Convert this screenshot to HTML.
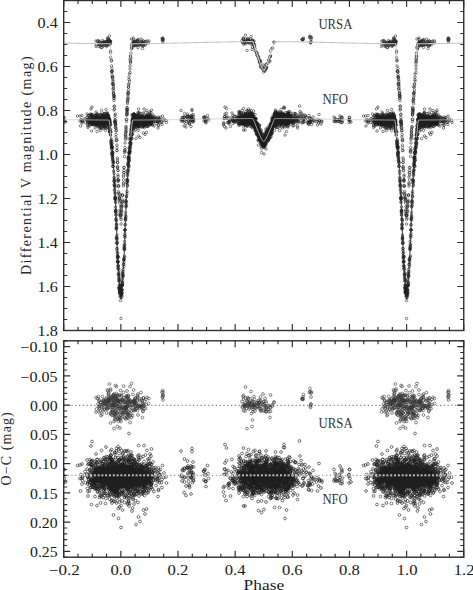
<!DOCTYPE html><html><head><meta charset="utf-8"><style>html,body{margin:0;padding:0;background:#fff;}svg{display:block;}</style></head><body><svg width="473" height="590" viewBox="0 0 473 590"><defs><marker id="o" markerUnits="userSpaceOnUse" markerWidth="8" markerHeight="8" refX="4" refY="4" overflow="visible"><circle cx="4" cy="4" r="2.5" fill="none" stroke="#1e1e1e" stroke-width="1.1"/></marker><marker id="u" markerUnits="userSpaceOnUse" markerWidth="8" markerHeight="8" refX="4" refY="4" overflow="visible"><circle cx="4" cy="4" r="2.5" fill="none" stroke="#2a2a2a" stroke-width="1.15"/></marker><marker id="p" markerUnits="userSpaceOnUse" markerWidth="8" markerHeight="8" refX="4" refY="4" overflow="visible"><circle cx="4" cy="4" r="2.8" fill="none" stroke="#1e1e1e" stroke-width="1.2"/></marker><marker id="q" markerUnits="userSpaceOnUse" markerWidth="8" markerHeight="8" refX="4" refY="4" overflow="visible"><circle cx="4" cy="4" r="2.8" fill="none" stroke="#383838" stroke-width="1.2"/></marker><clipPath id="cu"><rect x="63.7" y="0.5" width="400.05" height="330.0"/></clipPath><clipPath id="cl"><rect x="63.7" y="340.8" width="400.05" height="216.40"/></clipPath></defs><rect width="473" height="590" fill="#fff"/><g clip-path="url(#cu)"><path d="M110.0 127.14L110.3 130.55L110.6 133.95L110.8 137.36L111.1 140.76L111.4 143.57L111.7 145.98L112.0 148.39L112.3 150.87L112.6 154.00L112.8 157.13L113.1 160.26L113.4 164.96L113.7 169.74L114.0 174.52L114.3 179.31L114.6 184.09L114.8 188.87L115.1 194.21L115.4 199.84L115.7 207.17L116.0 214.68L116.3 222.20L116.6 229.72L116.8 237.26L117.1 244.79L117.4 251.87L117.7 257.61L118.0 262.51L118.3 266.57L118.6 270.63L118.8 274.68L119.1 278.75L119.4 282.85L119.7 286.95L120.0 290.86L120.3 293.71L120.6 296.55L120.9 299.40L121.1 296.55L121.4 293.71L121.7 290.86L122.0 286.95L122.3 282.85L122.6 278.75L122.9 274.68L123.1 270.63L123.4 266.57L123.7 262.51L124.0 257.61L124.3 251.87L124.6 244.79L124.9 237.26L125.1 229.72L125.4 222.20L125.7 214.68L126.0 207.17L126.3 199.84L126.6 194.21L126.9 188.87L127.1 184.09L127.4 179.31L127.7 174.52L128.0 169.74L128.3 164.96L128.6 160.26L128.9 157.13L129.1 154.00L129.4 150.87L129.7 148.39L130.0 145.98L130.3 143.57L130.6 140.76L130.9 137.36L131.1 133.95L131.4 130.55L131.7 127.14M395.7 127.14L396.0 130.55L396.3 133.95L396.6 137.36L396.9 140.76L397.2 143.57L397.5 145.98L397.7 148.39L398.0 150.87L398.3 154.00L398.6 157.13L398.9 160.26L399.2 164.96L399.5 169.74L399.7 174.52L400.0 179.31L400.3 184.09L400.6 188.87L400.9 194.21L401.2 199.84L401.5 207.17L401.7 214.68L402.0 222.20L402.3 229.72L402.6 237.26L402.9 244.79L403.2 251.87L403.5 257.61L403.7 262.51L404.0 266.57L404.3 270.63L404.6 274.68L404.9 278.75L405.2 282.85L405.5 286.95L405.7 290.86L406.0 293.71L406.3 296.55L406.6 299.40L406.9 296.55L407.2 293.71L407.5 290.86L407.7 286.95L408.0 282.85L408.3 278.75L408.6 274.68L408.9 270.63L409.2 266.57L409.5 262.51L409.7 257.61L410.0 251.87L410.3 244.79L410.6 237.26L410.9 229.72L411.2 222.20L411.5 214.68L411.7 207.17L412.0 199.84L412.3 194.21L412.6 188.87L412.9 184.09L413.2 179.31L413.5 174.52L413.7 169.74L414.0 164.96L414.3 160.26L414.6 157.13L414.9 154.00L415.2 150.87L415.5 148.39L415.7 145.98L416.0 143.57L416.3 140.76L416.6 137.36L416.9 133.95L417.2 130.55L417.5 127.14" fill="none" stroke="#666" stroke-width="1.3"/><g transform="scale(0.5)"><path d="M192 93l0-11 1 8 2-8 1 4 1-5 0 7 1-5 0 1 0 9 1-5 0 2 0-1 2 3 0-6 1-1 0 1 0 9 1-8 0 2 1 6 0-6 1-8 1 11 0-5 1-3 0 0 0 0 1 7 0-6 0 2 1-3 0 6 0-3 0-1 1-1 2 2 0-4 0 3 0 4 1 3 0-5 0-2 0-4 0 5 1-2 0 6 0-7 1 6 0-14 0 8 0-1 1 6 0-12 1 4 0-2 0 5 0-1 0 1 0 0 0 5 0-11 1 8 0-6 0 5 0-1 0-1 1 1 0 3 0-15 1 16 0-6 0 7 0-3 0-3 0-1 0 1 1 0 0 0 0 19 0 3 0 10 2 5 0 2 0 10 0 11 1-1 0 0 0-5 0 7 0 5 1 6 0-2 0 1 0 13 0-11 1 11 0 2 0-9 0 9 0 9 0-15 1 13 0-4 0 9 0 5 0 2 0-2 1 11 0-6 0 1 0 4 0-5 0 2 0 20 0-12 0 19 1-8 0 6 1 12 0 13 0 1 0-1 0-8 0 9 0 2 0-2 0-4 1-12 0 23 0-1 0-4 0-5 0 14 0-7 0 1 0 6 1 2 0 5 0 7 0 5 1-13 0 20 0 0 0-2 1 11 0 5 0 6 0 0 1 15 0 9 0 0 0 11 0-3 0-13 0 15 1 6 0 0 0 19 0-7 0 10 0-13 0 9 1 1 0 11 0-10 0 12 0 13 0-14 0 11 1 7 0 10 1-12 0 8 0-2 0 2 0 2 0 8 1 14 0-18 0 26 0-5 0 8 1-18 0 19 0-2 0 0 1 18 0-9 0-3 0-10 1-7 0-4 0 8 0 7 0-18 0 10 1-9 0-8 0 5 1-10 0 3 0 1 0-14 0 0 0 1 2-19 0-18 0 14 0-2 0-16 0 10 1-19 0 4 0 0 0-10 0 0 1-30 0 8 0-12 1 2 0-8 0 5 0-14 1-10 0 3 0-8 0-2 0 0 1-11 0 16 0-10 0 0 0-3 0-6 0-2 1-14 0 4 0-13 0 9 1-13 0-7 0 9 0-13 0 15 0-7 0-7 0 5 0 4 0-5 1-1 0-17 0 2 0-5 0 8 1-8 0-11 0 8 0-9 0-2 0 7 1-18 0 11 0-11 0-5 0 11 1-12 0-9 0-5 1 8 0-14 1-10 0 7 0-13 0-14 1 5 0 3 0-14 0 0 0 10 1-6 0-10 1-28 0 16 0 2 0-6 0 8 2-3 0-8 1-2 0-6 1 6 0-9 0 9 0 6 1-6 0 0 0-1 0 2 0-1 1 3 0 3 0 0 0-5 0-2 1-1 0 5 0 3 0-8 1 5 0-6 0 5 0-2 1 3 0-2 0 4 1-3 1 3 1-10 0 1 0 10 0-7 0-1 1-1 0 13 0-6 0-10 1 8 1 2 0-1 1 0 1 2 0-6 1 4 0 1 1-11 1 6 0-1 0 6 1 0 0 0 1 8 0-10 0-1 0-2 1 8 0 0 1-4 0-6 0 0 0 5 1 3 0-2 1-4 2 6 1-7 0 4 2-5 3 4 1-4 26-5 1 3 0 1 0-5 1 7 0-6 0 2 0 0 158 2 1 3 0 1 1-8 1-1 0 12 0-9 1 4 0 1 1-1 1 5 0-6 0 2 0 1 1-7 0 5 0-13 2 16 0-3 1 18 0-21 1 4 0-3 0-4 1 7 0-5 0 5 1-6 1 8 0-3 0-1 0-1 0 1 1 3 0-3 1 2 1-6 1-5 0 11 1 1 0-4 0 8 1-7 0 17 1-19 0 14 0-12 1 6 0-1 0-1 0 0 0-4 0 3 1 3 1-6 0 7 1 4 0-4 0 5 1 3 0 4 2 2 1 2 1 1 0 4 0-3 0 4 2 1 1 3 0 3 0-4 2 11 0-4 0 2 0-1 1 3 0-2 1 1 0-3 0 9 0 3 1 0 0 2 3 2 1 2 0-9 0 8 1-1 0 7 1-7 1 4 1-8 0 9 0-5 1-1 1 1 0-2 0 3 0-9 1 5 0 1 0-7 3-2 1-6 1 2 1-7 1 7 0-9 1-11 0 10 0 0 3-15 1-1 3-11 0-1 56-5 1 0 0 0 0 0 1-1 0 2 1-4 12-1 1-1 0-2 1 14 0-1 1-1 0-6 0 5 0-8 1 0 140 18 1-11 0 8 2-8 1 4 1-5 0 7 1-5 1 1 0 9 0-5 0 2 1-1 1 3 1-6 0-1 1 1 0 9 0-8 1 2 0 6 1-6 1-8 0 11 1-5 0-3 1 0 0 0 0 7 0-6 1 2 0-3 0 6 1-3 0-1 1-1 1 2 0-4 0 3 1 4 0 3 0-5 0-2 0-4 1 5 0-2 0 6 1-7 0 6 1-14 0 8 0-1 1 6 0-12 0 4 0-2 0 5 0-1 0 1 1 0 0 5 0-11 0 8 0-6 0 5 1-1 0-1 0 1 1 3 0-15 0 16 0-6 0 7 0-3 0-3 0-1 1 1 0 0 0 0 1 19 0 3 0 10 1 5 0 2 0 10 1 11 0-1 0 0 1-5 0 7 0 5 0 6 0-2 1 1 0 13 0-11 0 11 0 2 0-9 0 9 0 9 1-15 0 13 0-4 1 9 0 5 0 2 0-2 0 11 0-6 0 1 1 4 0-5 0 2 0 20 0-12 0 19 1-8 0 6 0 12 0 13 1 1 0-1 0-8 0 9 0 2 0-2 0-4 0-12 0 23 0-1 0-4 0-5 1 14 0-7 0 1 0 6 0 2 0 5 1 7 0 5 0-13 1 20 0 0 0-2 0 11 0 5 0 6 1 0 0 15 0 9 0 0 0 11 0-3 1-13 0 15 0 6 0 0 0 19 1-7 0 10 0-13 0 9 0 1 0 11 0-10 0 12 0 13 1-14 0 11 0 7 1 10 0-12 0 8 0-2 0 2 1 2 0 8 0 14 0-18 0 26 0-5 1 8 0-18 1 19 0-2 0 0 0 18 0-9 1-3 0-10 0-7 0-4 0 8 0 7 1-18 0 10 0-9 0-8 1 5 0-10 0 3 0 1 1-14 0 0 0 1 1-19 0-18 0 14 0-2 1-16 0 10 0-19 0 4 0 0 0-10 1 0 1-30 0 8 0-12 0 2 0-8 1 5 0-14 0-10 0 3 1-8 0-2 0 0 0-11 0 16 0-10 0 0 0-3 1-6 0-2 1-14 0 4 0-13 0 9 0-13 0-7 0 9 0-13 0 15 0-7 1-7 0 5 0 4 0-5 0-1 0-17 1 2 0-5 0 8 0-8 0-11 0 8 1-9 0-2 0 7 0-18 0 11 0-11 1-5 0 11 0-12 1-9 0-5 0 8 0-14 2-10 0 7 0-13 0-14 0 5 0 3 1-14 0 0 0 10 0-6 0-10 1-28 0 16 0 2 1-6 0 8 1-3 0-8 2-2 0-6 0 6 0-9 0 9 1 6 0-6 0 0 0-1 1 2 0-1 0 3 0 3 0 0 0-5 1-2 0-1 0 5 1 3 0-8 0 5 1-6 0 5 0-2 1 3 0-2 0 4 0-3 1 3 1-10 0 1 0 10 1-7 0-1 0-1 0 13 0-6 0-10 2 8 0 2 0-1 1 0 1 2 1-6 0 4 1 1 0-11 1 6 0-1 1 6 0 0 1 0 0 8 1-10 0-1 0-2 0 8 1 0 0-4 0-6 1 0 0 5 0 3 1-2 0-4 2 6 2-7 0 4 2-5 3 4 0-4 27-5 0 3 1 1 0-5 0 7 0-6 0 2 1 0" fill="none" marker-start="url(#u)" marker-mid="url(#u)" marker-end="url(#u)"/><path d="M126 239l0 1 0-1 1 6 1-10 0 0 1 7 2 2 24-12 5 0 0 10 1 10 1-13 1 3 1 4 0-15 1 10 0 0 0 3 4-4 1-3 1 8 3-6 0-11 0 7 1 11 0-5 0 9 1 5 0-16 0 6 0 7 0-20 0 9 1 0 0 2 0-1 1-11 0 14 0-14 1 10 0 11 0-5 0-11 1 9 0-17 0 8 0-1 0 4 1-1 0 7 0 4 0-4 1-27 0 14 0 0 0 17 0-6 0-13 1 14 0 0 0-1 0 19 0-30 0 7 0 5 0-15 0 18 0-18 0 16 0-8 1-5 0 17 0-17 0 12 0-30 0 29 0-9 1 13 0-5 0 5 0-2 0-16 1 15 0-6 0-1 0 12 0-4 0 4 1-14 0 7 0 5 0-7 0-6 0 4 0 6 0 3 0-8 1 1 0 4 0-4 0 5 0 0 0 0 0-12 0 7 0-4 1 14 0-9 0-5 0 8 0 0 0-6 0 8 0-3 1-13 0 8 0 1 0 17 0-12 0-4 0-1 0 5 0 3 0-4 0-8 0 10 0 4 0-4 0-14 1 12 0-6 0 3 0 1 0-8 0 6 0-7 0 4 0 8 0 4 1 2 0-2 0-6 0-6 0 7 0 7 0-26 0 13 1 7 0 2 0 0 0-11 0 13 0-10 0 1 0-2 0-6 0 13 0 0 0 5 0-9 1-4 0-8 0 7 0-4 0 32 0-13 0-16 0-4 0 11 1-13 0 15 0 10 0-17 0 8 0-6 0-5 0 11 1-8 0 5 0-7 0 3 0 4 0 9 0-8 0-4 0 2 0 9 0-13 0 16 1-17 0 4 0 3 0-3 0-5 1 10 0 1 0 0 0 2 0-1 0 2 0-5 0-3 0 0 0 1 1-7 0 10 0-3 0-5 0 16 0-11 0-6 0 8 0-2 0-6 0 15 0-12 0 19 1-15 0 8 0-8 0-4 0 17 0-17 0 4 0-12 0 1 0 9 0 4 0 0 0-6 0 1 0-3 0 0 0 13 1-7 0-3 0 1 0 2 0 3 0-10 0-1 0 5 0 1 0-4 0 10 0 5 0-7 0-16 0 12 0 21 0-24 0-2 0 4 0 16 1-21 0 1 0 7 0-13 0 15 0 1 0-7 0 10 0-11 1 17 0-15 0-2 0 8 0 11 0-35 0 24 0-9 0 12 0-11 0-2 1 6 0 3 0-3 0-6 0 1 0 3 0-1 0 9 0 1 0-10 0-7 0 12 1 4 0-8 0 4 0 6 0-10 0 7 0-9 0 1 0-5 1 0 0 3 0 10 0-5 0 1 0-12 0 18 0-14 0-3 0 9 0 14 0 3 1-27 0 10 0-3 0 10 0-11 0-3 0 18 0-15 0 2 0 5 0-4 0 1 0-2 0-1 1 9 0 6 0-20 0 12 0-8 0 13 0-7 0-5 0-10 0 5 0 15 0-10 0-10 0 8 0 2 0 13 0-16 0 8 0 2 0-3 1-13 0 17 0 1 0-3 0 7 0 5 0-23 0 8 0-4 0 0 0 3 0 1 0 5 0-8 0 16 0-11 0 1 0-7 0 3 0 11 1-8 0 5 0-4 0 1 0 7 0-7 0-2 0-1 0 5 0-5 0-7 0 4 0 9 1-13 0 9 0 11 0-9 0-1 0-9 0-6 0 6 0 13 0 13 0-19 0 1 0 2 1 2 0-3 0 0 0-25 0 38 0-12 0-2 0 11 0-16 0 1 1 5 0-1 0-2 0-15 0 2 0 14 0-11 0 18 1-4 0-9 0 8 0-5 0 7 0-7 0-6 0 9 0 2 1-16 0 15 0-11 0 16 0-13 0 4 0-2 0 1 0 1 0 7 0-1 0 10 0-24 0-5 0 3 1 18 0-10 0 10 0-4 0-9 0 7 0-7 0 11 0-11 0 11 0-6 0-4 0 5 0-3 0 10 0-16 0 3 0 7 1 1 0-3 0-3 0 2 0 13 0-8 0-12 0 24 0-23 0 18 0-5 0-5 0-5 1 11 0 4 0-5 0-5 0-4 0 6 0-1 0 9 0-11 0-2 0-1 0 9 0-5 0 8 0-9 0 4 1 9 0-12 0 8 0 9 0-13 0-2 0 2 0 9 0 11 0-10 0-11 0 8 0 6 0 7 0-4 1-15 0 17 0-16 0 14 0-20 0 10 0-7 0 21 1-15 0 10 0-10 0 21 0-7 0 7 1 12 0 6 0-24 0 18 0 3 1 6 0 3 0 14 0-14 0-7 0-8 0 19 0-8 1-7 0 12 0-1 0-7 0 6 0 6 0-5 0 13 0-3 1 5 0-13 0 9 0 0 0 5 0 2 0 1 0 4 0-2 0 6 1-16 0 17 0-3 0 13 0 1 0-6 0 6 1-9 0 1 0 17 1 5 0 8 0 8 0 6 0-9 1 3 0 9 0-10 0-5 0 14 0 10 0-2 1-5 0-5 0 27 0-10 0 1 0 11 0 0 0-5 1 3 0 7 0-7 0-1 0 10 0-7 0 23 0-7 0 8 0 1 1 2 0 5 0-10 0 5 0 5 0 7 0 2 0 18 0-17 1 11 0-2 0 7 0-8 0 7 0 3 0-16 0 34 0 1 0-3 1 2 0-6 0 16 0-6 0 7 0 10 0-13 0 2 0 15 0-4 1 18 0-8 0 14 0-16 0 19 0-12 0 12 0-12 0 4 1 15 0 4 0-11 0 0 0-1 0-10 0 19 0 6 1-6 0-18 0 23 0 12 0 27 0-26 0-4 1 6 0-11 0 15 0 6 0-3 0-2 0 5 0-14 0 27 1-5 0 12 0 5 0-13 0 11 0-6 0 1 1-4 0-1 0 9 0-14 0 7 0-7 0 15 0 0 0-5 0 5 0-11 0-12 0 22 0-3 0-1 0 12 1 9 0-7 1 43 0-52 0 5 0-1 1 6 0-18 0 7 0 4 0-7 0 4 0 4 1-2 0-17 0 10 0 12 0-12 0 0 0 5 0-15 0 2 0-1 0 0 1-3 0-4 0-17 0 11 0 11 0-5 0-11 0-8 1-6 0 14 0-2 0-3 0 3 0-8 1-14 0 0 0-9 1 13 0-8 0-8 0 2 0 1 0-23 0-4 1 3 0-13 0 32 0-16 0 0 0 13 0-17 0-6 0 1 0-19 1 4 0-3 0-12 0 0 0 0 0 7 0-17 0 9 1-20 0 10 0-9 0-15 0 11 0 1 0-6 1 2 0-19 0-7 0 5 0-10 0 2 0 0 0-3 1 10 0-19 0 2 1-11 0-24 0 28 0-21 0-1 0-4 1 1 0-3 0 13 0-10 0-21 0 8 0 2 0-5 0 24 1-26 0-27 0 24 0-11 0-4 0 2 1-8 0 13 0 6 0-13 0 5 0-17 0 3 0 7 0 7 0-15 0-2 1 8 0-6 0-9 0-2 0 10 0 18 0-55 0 37 0-18 0 24 0-10 0-6 1-1 0 3 0-4 0-5 0-3 0 25 0-34 0 20 1-4 0-1 0 3 0-10 0-2 1-2 0-5 0-14 0 25 0-10 0-18 0 8 0 8 0 5 0-11 1 1 0-11 0 19 0-10 0-13 0-7 0 6 0 7 0-10 0 10 1-12 0 13 0-3 0-17 0 24 0-6 0-17 0 8 0-7 1 15 0-23 0 32 0-14 0-15 0 10 0-4 0-24 0 11 1-1 0-2 0 30 0-31 0 3 0 1 0 10 0-11 0 0 0-11 0 24 0-5 0-3 1-14 0 9 0-8 0 16 0-11 0 0 0 1 0 5 0-3 0 18 0-18 0 17 0-14 0-1 0-4 1-2 0-8 0 5 0 4 0 0 0 8 0-7 0-3 0 6 0 7 0-1 0-9 0 6 0 7 0-6 0 10 0-17 0 4 0-10 1 9 0 21 0-34 0 11 0 3 0 3 0 2 0-5 0-6 0 5 0 3 0 2 0-18 0 3 0 10 0 13 0-16 0-5 0 21 0-11 1 7 0-12 0 12 0-4 0 9 0-26 0 14 0-13 0 9 0-10 0 5 0 10 0 0 0 3 0 1 1-2 0-8 0 8 0-4 0-4 0 11 0-15 0 14 0-6 0-2 0 6 1 13 0-16 0-8 0 16 0 1 0-7 0 0 0-4 0-2 0-2 0 18 0-24 0 7 0 10 0 2 1-13 0 5 0-2 0 2 0-3 0-7 0 15 0-3 0 4 0 4 0-9 0 34 0-39 0 1 0-4 0 4 0-1 0-1 0 7 0-13 0 4 1 8 0-7 0 1 0 7 0 10 0-19 0-3 0 10 0 3 0-4 0 2 0-7 0 10 0-6 0-1 0 2 1-1 0-10 0 4 0 13 0-15 0 4 0 2 0 6 0-3 0 10 1-6 0-2 0-5 0 9 0 1 0 5 0-15 0 12 0-10 0 1 1 8 0-11 0 23 0-36 0 24 0-16 0 15 0-12 0 16 0-9 1 10 0-7 0-14 0-5 0 20 0-9 0-1 0 8 0-17 0 8 0 3 0 4 0-1 0 4 0-28 0 17 0 0 0 37 0-34 0-2 0 11 1-8 0 3 0 10 0-10 0-14 0 28 0-31 0 12 0 2 0-6 0 4 0 16 0-16 0 4 1 3 0-4 0-8 0 9 0 0 0-1 0 10 0-10 0-1 0 4 0-6 0 11 0-1 0-5 0-7 0 3 0-4 0 14 1-9 0-1 0 4 0-1 0 4 0-9 0 39 0-30 0 0 0-4 0-2 1 1 0-2 0 0 0-1 0 6 0 4 0 4 0 1 0-13 0 6 0-9 0 6 1-3 0-6 0 3 0 3 0-12 0 17 0-10 0 5 0-5 1 6 0 6 0-9 0-1 0-1 0-4 0 23 0-10 0 2 0-6 0 8 0-8 1 5 0-4 0-2 0-3 0 4 0 1 0 3 0 0 0 5 0 0 1-3 0-13 0 6 0 6 0 8 0-16 0-3 0 7 0 3 0-4 0 7 0-13 0 9 1-11 0 5 0 0 0 15 0 2 0-14 0 5 0-19 0 9 0 13 0-9 0 8 0-3 0 7 0-17 0 12 1-6 0 3 0 1 0 8 0-17 0 12 0-7 0-3 0 8 0 21 0-25 0 2 1 5 0-10 0 0 0 11 0 3 0-10 0 3 0-8 0-7 0 11 0-23 0 16 1 14 0-2 0-7 0 1 0 4 0 8 0-14 0 17 0-8 0-10 0 8 0-10 0 10 1 5 0-13 0 7 0-9 0 10 0 24 0-29 0 3 0 2 0 2 1 3 0-8 0 7 0-10 0 5 0-19 0 22 1-5 0 3 0-7 0-5 0-1 1 8 0-7 0 13 0-6 0 12 0-9 0 22 0-16 0-16 0 8 0 0 0-6 0 6 0 3 0-4 1-2 0 7 0-4 0 1 0 0 0 8 0-8 0 11 0-22 0-10 0 13 0 10 1 2 0-9 0 9 0-8 0-3 0 1 1 0 0 17 0-16 0 8 0-13 0 15 0-19 0 16 1-15 0 13 0 4 0-2 0-3 0-3 0-6 0 18 0-6 0-3 0-3 1 2 0-3 0 7 0-3 0 3 0 7 0-6 1-12 0-6 0 11 0 10 0-7 0-6 0 5 0 9 0-14 1 2 0 6 0-19 0 21 0-14 0 12 0-12 1 9 0 2 0 4 1-4 0-7 0 12 0-5 0 5 0-15 0 10 0 7 0-24 0 21 0-2 0-3 1-21 0 29 0-4 0-13 0 5 0 10 1-10 0 4 0 5 0-7 0-5 1 7 0-3 0 0 0 12 1-13 0-7 1 10 0 3 1 0 0-9 0 18 1-13 0-3 1 6 1-8 0 2 0 7 1 4 2-7 0-3 1 7 0-2 0 1 1 13 0-18 0 2 1 10 0-16 0 17 0-7 1-2 0-6 1 3 0 6 1-6 0 1 1-5 2 10 1 4 0-6 1-11 2 9 1-3 4 3 1 4 29-24 0 19 1-1 1 4 1-8 0 5 0-5 3 17 0-11 0-7 0 1 1-8 0 13 0 4 0-10 3 13 0 7 2-15 0-6 0 0 1-5 0 5 1-1 0 9 0-4 1 6 0-10 1 13 1-9 0 10 0-13 0 14 3-17 0 9 0-3 0 3 0-7 0 20 0-18 0 6 1-5 0 4 1-2 0-17 0 11 0-13 1 25 1-2 0-4 0-9 0 8 1-5 0 11 0-5 0 3 20-6 1 7 0-7 1-1 0 4 1-4 1 8 0 1 1-5 0 5 0 3 3-15 1 6 1 3 30 10 0-3 1-10 0 9 1-9 0 16 0-20 1-5 0 5 0-19 2 42 1-29 0 8 0-18 1 20 1 8 1-11 1 10 1-1 0 4 0-2 1-1 1-4 1 13 0-13 2-5 1-9 0 15 1 0 0-3 1-2 0 11 0-6 0-10 1 11 0-3 0 3 1 2 0-4 1 0 0-8 1 1 0 10 1 0 0-1 0-1 1 3 1-10 1 7 0-3 1 0 0-2 1 0 0-1 0 8 0-11 1 3 0 11 0-6 0 7 0 1 1 3 0-16 0-12 0 5 0 7 0-1 0-9 1 23 0-5 0-12 0 16 0-9 0 1 0 8 1-6 0-17 0 15 0-4 0 2 0 3 0-15 0 3 1 20 0 1 0-3 0 0 0-5 0-4 1 4 0-10 0 4 0 1 0 6 1-2 0-3 0-9 0 8 0-3 0 12 0-18 0 5 0 11 0-8 0 5 0 1 1-5 0-15 0 9 0 16 0-10 0 11 0-5 0-4 1-4 0 6 0 6 0-9 0 3 1-7 0 5 0 8 0-11 0 13 0-6 0-10 0 4 0 6 0-6 1 8 0-27 0 43 0-24 0 1 0 16 0-11 0-6 0 12 0-22 0 17 0-5 0-11 1 5 0 14 0-13 0 11 0-4 0 2 0 7 0-19 0 4 0 10 0-4 0-1 0-3 0 6 0-2 0-3 0 0 0 1 1 5 0 3 0-6 0-9 0 1 0 18 0-19 0 14 0-6 0 0 0 8 0-6 0 1 0-8 1 17 0 9 0-13 0-11 0-8 0 10 0-1 0-3 1 6 0-1 0 9 0-9 0 4 0 0 0-10 0 16 0-19 0 12 0 0 0-6 0-8 1-5 0 14 0-10 0 11 0-8 0 8 0-3 1 1 0-4 0 5 0 3 0-8 0 11 0-15 0 12 0-5 0 16 0-9 0-2 1-3 0-6 0 22 0-8 0-1 0-23 0 29 0-16 0 16 1-12 0 2 0-2 0 1 0 1 0-13 0 17 1-6 0 8 0-7 0 0 0-9 0-1 0 16 0-5 0-10 0-2 0 22 0-12 0 5 1 3 0 1 0-4 0-8 0 5 0-4 0-14 0 9 0 4 0-17 0 13 0 11 0-15 0 7 1-3 0 9 0-2 0 6 0-8 0 5 0-4 0-5 0 5 0 2 0-6 0 2 0 11 0-14 0 8 0 6 1-1 0-16 0 7 0-2 0 18 0-23 0 9 0 0 0-16 0 12 1 0 0-6 0 19 0-11 0 4 0-4 0-8 0-3 0 6 0 9 0-2 0 6 0 0 0-5 0 1 0 7 0-16 0 15 0-19 1 5 0 8 0-9 0 9 0-1 0-7 0 10 0-2 0 5 0-8 0 8 0-18 0 22 1-6 0 2 0-5 0-14 0-5 0 19 0 2 0-3 0-4 0 8 0 2 0-15 0 1 0 5 0 1 0 9 0-19 0 13 0 13 0-11 0-7 0 2 1 11 0-7 0-2 0-3 0 0 0-6 0 14 0-8 0-1 0 1 0-4 0 14 1-16 0 11 0 3 0-10 0 3 0 10 0-20 0 14 0-3 0-5 0 11 0-8 0-6 0 25 0-11 0-13 0 1 0 0 0 5 0 12 0-8 1-12 0 20 0-8 0 10 0-17 0 2 0 1 0-7 0 0 0 1 0 11 0-9 0 1 1 16 0-14 0-2 0 1 0-5 0 22 0-19 0 18 0 0 0-8 0-2 0-14 0 10 0 2 0 3 0 4 0-10 0 8 0 6 0-14 1 2 0 11 0-3 0-2 0-4 0-18 0 15 0 17 0-19 0 4 0 1 0 4 0 1 0 1 0-11 0 6 0 4 0-3 0-2 0 13 1-2 0-9 0 1 0-1 0-7 0 6 0 6 0-1 0 5 0-8 0-2 1-4 0 22 0-15 0 4 0-10 0 5 0 6 0-5 0 7 0-3 1-12 0 6 0 2 0 6 0 5 0-5 0-11 0 13 0-8 0-5 0 18 0-11 0 8 0-5 0-20 0 14 0 5 0-10 0 10 1 4 0 1 0 0 0 1 0 8 0-14 0-10 0 23 0-9 1-15 0 18 0 3 0-6 0 5 0-4 0-5 0 5 0-10 0 17 0 3 0-17 0-8 1 8 0 10 0-8 0 15 0-7 0-10 0 22 0-6 0 3 0 2 0-9 0-10 0 7 0-8 1-1 0 10 0-8 0-1 0 20 0-16 0 15 0-12 0 1 0-9 0 24 0-15 0-3 0 7 1-7 0 16 0-13 0 7 0-3 0-5 0 11 0-1 0 5 0-1 0-9 1-8 0-1 0 31 0-15 0 2 0-9 0 11 0-9 0 5 0-13 1 20 0-9 0-6 0 32 0-31 0 10 0-7 0-4 0 9 0 5 0-2 0-12 0 21 0-10 0 4 0-7 0 3 1-4 0-3 0-12 0 19 0 5 0-7 0 3 0-14 0 13 0-7 0 3 0 15 0-24 0 19 0-11 0 13 0-4 0-11 1 10 0-7 0 3 0-4 0 17 0-11 0-5 0 1 0-15 0 24 0-24 0 22 0 5 0 2 0-23 0 8 1 16 0-15 0-3 0 9 0-4 0-1 0 4 0 7 0-7 0-6 0 4 0 7 0-6 0-2 0 3 0-10 1 24 0-17 0 2 0 11 0-8 0 1 0-1 0 1 0 2 0-10 0 8 0-6 0 8 0 3 0-1 0-10 1 7 0 10 0-23 0 11 0 12 0-12 0 1 0 4 0-18 0 8 0 17 1 3 0 17 0-29 0 7 0-11 0 9 0 4 0 12 0-23 0 1 0 1 0 0 0 3 0-2 0 9 0-9 0 4 0 12 0-18 0-8 1 13 0-3 0 5 0-16 0 18 0-6 0-6 0 16 0-12 0 15 0-1 1-12 0-8 0 11 0-4 0-1 0 4 0 2 0-2 0-4 0 16 0-6 0-1 0-11 0 15 0-4 0 0 0-7 0-1 0 4 0 8 1-12 0 8 0-5 0-1 0 0 0 0 0 2 0 5 1 8 0-13 0-2 0 3 0-13 0 15 0-9 0 10 0 4 0-13 0 18 0-4 0-2 0-11 1 13 0-4 0 5 0 3 0-10 0-5 0 5 0 3 0-4 0-8 0-3 0 36 0-29 1 9 0-2 0-1 0-5 0-3 0-3 0 3 0 10 0-3 0 2 0 6 0-9 0-14 0 14 0 11 0-20 0 11 1-17 0 22 0-1 0-14 0 12 0-9 0 6 0-7 0-4 0 7 0-8 0 10 0 2 0-5 0 0 1 2 0 3 0-3 0 7 0-8 0 1 0 6 0-14 0-3 0 7 0 2 0-10 1 21 0-10 0 18 0-24 0 12 0-7 0-9 0 1 0 6 0-1 0 0 0 2 0-20 0 4 0 12 0 0 0-8 1 9 0-8 0 3 0-6 0 7 0 8 0 0 0 1 0-2 0-13 0 3 0 12 0-12 0-5 1 21 0-14 0-3 0 13 0-15 0 5 0-3 0 6 0 6 0 3 0-8 0-1 0 8 0-17 0 13 1 1 0-4 0 3 0 0 0-9 0-1 0 2 0 1 0 3 0-15 0 1 0 18 1 1 0-2 0-8 0 1 0-14 0 10 0 8 0-13 0 8 0 7 0-4 0-1 0-4 0 2 1 0 0-5 0 14 0-11 0 5 0-2 0-11 0 21 0 0 0-9 0 12 0-17 0-3 0 13 0-8 1-5 0 16 0-12 0-14 0 22 0-14 0 10 0-3 0 2 0-8 1 8 0-9 0 2 0-1 0 3 0 12 0-5 0-6 0 1 0-5 0 6 0-7 0-4 1-2 0 8 0 4 0-7 0-3 0 3 0 4 0-1 0-4 1 9 0-6 0-11 0 16 0-6 0-6 0 1 0 20 0-9 0 1 0-18 0 17 0-16 0 10 0 0 0-11 1 24 0-8 0-7 0-7 0 8 0-8 0 5 0-1 0-8 0 22 0-18 0-5 0 21 0-13 0 2 0 11 0-12 0 15 1-13 0 0 0-10 0-4 0 11 0 0 0 4 0-8 0 0 0 10 0-12 0 15 1-2 0 5 0-8 0-7 0 16 0-17 0 5 0 10 0-18 0 4 0 1 0 5 0-2 0-4 0-2 0 12 0-17 0-8 0 1 0 3 0 11 0 6 0-6 0 2 0-2 0 9 0-9 1 2 0-11 0 12 0-1 0-4 0 7 0-9 0 5 0-3 0-11 0 11 1 2 0 2 0-1 0 0 0-10 0 5 0 0 0 0 0-4 0 7 0-11 0 6 0 10 0-10 0-13 0 12 1-3 0 10 0-14 0 7 0-2 0 10 0-12 0 11 0-10 0 13 0-16 0-1 0 4 0 2 0-4 0 10 0-15 1 1 0 13 0-1 0-9 0-3 0 2 0 5 0 0 0-7 0 5 0 7 0-3 0 4 0-3 0-6 0-6 1-4 0 6 0 1 0-8 0 14 0 3 0-2 0 3 0-20 0 12 0-8 0-2 0 22 0-13 0-6 0-3 0 21 0 12 1-22 0-10 0 7 0-4 0-4 0 12 0-10 0 0 0 17 0-2 0-11 1 12 0-16 0-6 0-4 0 18 0 3 0-8 0-10 0 27 0-4 0-6 0 5 0-4 0-5 0-1 0-8 0 23 0-11 1 6 0-5 0-2 0-1 0 3 0 14 0-19 0 19 0-20 0-10 0 19 0-7 0-1 0 10 0 6 0-11 0-13 0-2 0 15 1 7 0-9 0 6 0 5 0-18 0-1 0 5 0 3 0 0 0 7 0-15 0 6 0 11 0-10 0-4 0-7 0 2 1 22 0-11 0-6 0 2 0-2 0 22 0-15 0-11 0 9 0 0 0 0 0 6 0-2 1 6 0-11 0-6 0 8 0-4 0 0 0 3 0 0 0 4 0 1 0-19 0 12 0-1 0 2 0-9 0 19 1-4 0 2 0-15 0 10 0-4 0 5 0-1 0-2 0-5 0 3 0-2 0-4 0 15 0-6 0 16 0-16 0 5 0-6 1-8 0 4 0-6 0 6 0 11 0-10 0 2 0-5 0-3 0 0 0 5 1-10 0 22 0-9 0 3 0-5 0 8 0 0 0-8 0-7 0 6 0 2 0-2 0 5 0 0 0-5 0 6 0 5 0-11 1 5 0-1 0-2 0 8 0-8 0 3 0 4 0-10 0 5 0 3 0-15 0 16 0 0 0 10 0 9 0-10 1-17 0 3 0 5 0-16 0 11 0-8 0 5 0 12 0-9 0 4 0-3 0-7 0 18 0-2 0-8 1 10 0-15 0 2 0-1 0 0 0 0 0 4 0 3 0-9 0 0 0 12 0-1 0-18 1 21 0-15 0 17 0-16 0 8 0-22 0 20 0 10 0-18 0 18 0-12 0-6 0 4 0 2 0 1 0-3 1 12 0-10 0 17 0-17 0-2 0 11 0-14 0 7 0-13 0 11 0-6 0 0 0 1 0-4 1 5 0 2 0-10 0 11 0 0 0 2 0 5 0-10 0 8 0-3 0-1 0-5 0-3 0 1 0 11 1-11 0 13 0-8 0-2 0 13 0-10 0-7 0 27 0-13 0-8 0-7 0 3 0 9 0-1 0-7 0 4 0-5 1 4 0 6 0-6 0 6 0-8 0-4 0 7 0-1 0 7 0-8 0 4 0-4 1-18 0 22 0-10 0 0 0 6 0-1 0 7 0-2 0 12 0-8 0-5 0-6 0 14 0-2 0 2 0-9 0 15 0-17 1 6 0-10 0 8 0 8 0-13 0 2 0 8 0-29 0 33 0-14 0 10 0-4 0 7 1-10 0-7 0 19 0-15 0 9 0-26 0 17 0 6 0 5 0-14 0 6 0 16 0-7 1-2 0 0 0 1 0 5 0-10 0-4 0 2 0 1 0-3 0 35 0-16 1-16 0-1 0 4 0-2 0 6 0-8 0-4 0 2 0 4 0 4 0-18 0 13 0-8 0 4 0 14 0-14 0 5 0-4 1 4 0-1 0 4 0-12 0 7 0 7 0 4 0 0 0-11 0-5 0 17 1-8 0-10 0 5 0 1 0 11 0-10 0-2 0 7 0-10 0 5 0 2 0 7 0-4 0-3 0 23 0-15 0-12 1 7 0-3 0-5 0 5 0 2 0 8 0-9 0-11 0 3 0 9 1-6 0 0 0-3 0 5 0 2 0 0 0-11 0 19 0-22 0 21 0-8 0-14 0 3 0 7 0-4 0 9 0-9 0 22 1-7 0-1 0 9 0-28 0 7 0 13 0-3 0-6 0-7 0 7 0 14 0-7 0 1 1-8 0-8 0 11 0-4 0-9 0 15 0-15 0 15 0 5 1-7 0-17 0 8 0 15 0 1 0-9 0 8 1-8 0 0 0-8 0 12 0 4 0-5 0 2 0-10 0 5 0 4 0-6 1-12 0 8 0 2 0 9 0-3 0-1 0-1 1 11 0-9 0 3 0-8 0 2 0 0 0-10 0 5 0 3 0-1 1 9 0-10 0 6 0 0 0-7 0 12 0-1 1-12 0 14 0-1 1-12 0 13 0-3 0-1 1 0 0 1 0-6 0 2 0 3 1 0 0 6 0-9 0 14 1-25 0 16 0-3 0 3 0 2 0-13 0 8 0-2 1 6 0 7 0-11 0 1 1 4 0-3 0-7 1-7 0-1 0 6 1 7 0-4 0-3 1 6 0-11 1 13 0-6 0 2 1 5 0 4 1-5 0 11 0 4 0-21 1 8 1-11 0 11 1-13 0 6 0-2 1-22 0 25 1 7 0-21 2 3 0 10 1-6 1 16 0-12 1-5 1 7 0 4 0 5 0-5 1-7 1 11 0-1 0-5 2-8 1 2 0 6 1-3 1 0 2 10 1 0 1 3 0-2 0-4 1 7 0-6 0-12 1 14 0-1 0-8 1 1 0-1 1 9 1-5 0 3 1-4 0 10 0-10 2 5 1-4 0-6 1 7 3 1 3 1 1-4 1 11 2-4 1-5 0-12 1 12 0 2 3 5 1-6 1 1 24-9 0 9 1-2 1-4 1 5 1 1 0-4 1 0 2 4 3 0 0-1 1-4 0 1 1-7 0 8 1 5 2-11 1 1 0 1 0 9 0-1 1-3 13-2 0 1 0-1 0 6 1-10 0 0 1 7 2 2 25-12 4 0 0 10 1 10 1-13 1 3 2 4 0-15 1 10 0 0 0 3 3-4 2-3 0 8 3-6 0-11 1 7 0 11 0-5 1 9 0 5 0-16 1 6 0 7 0-20 0 9 1 0 0 2 0-1 0-11 0 14 1-14 0 10 0 11 0-5 1-11 0 9 1-17 0 8 0-1 0 4 0-1 0 7 1 4 0-4 0-27 0 14 0 0 0 17 1-6 0-13 0 14 0 0 0-1 0 19 0-30 0 7 0 5 1-15 0 18 0-18 0 16 0-8 0-5 0 17 1-17 0 12 0-30 0 29 0-9 0 13 0-5 0 5 1-2 0-16 0 15 0-6 0-1 0 12 1-4 0 4 0-14 0 7 0 5 0-7 1-6 0 4 0 6 0 3 0-8 0 1 0 4 0-4 0 5 0 0 1 0 0-12 0 7 0-4 0 14 0-9 0-5 0 8 1 0 0-6 0 8 0-3 0-13 0 8 0 1 0 17 0-12 0-4 0-1 0 5 0 3 1-4 0-8 0 10 0 4 0-4 0-14 0 12 0-6 1 3 0 1 0-8 0 6 0-7 0 4 0 8 0 4 0 2 0-2 0-6 1-6 0 7 0 7 0-26 0 13 0 7 0 2 0 0 0-11 0 13 1-10 0 1 0-2 0-6 0 13 0 0 0 5 0-9 0-4 0-8 1 7 0-4 0 32 0-13 0-16 0-4 0 11 0-13 0 15 0 10 0-17 0 8 1-6 0-5 0 11 0-8 0 5 0-7 0 3 0 4 0 9 0-8 1-4 0 2 0 9 0-13 0 16 0-17 0 4 0 3 1-3 0-5 0 10 0 1 0 0 0 2 1-1 0 2 0-5 0-3 0 0 0 1 0-7 0 10 0-3 1-5 0 16 0-11 0-6 0 8 0-2 0-6 0 15 0-12 0 19 0-15 0 8 0-8 0-4 0 17 0-17 0 4 0-12 0 1 0 9 1 4 0 0 0-6 0 1 0-3 0 0 0 13 0-7 0-3 0 1 0 2 0 3 0-10 0-1 0 5 0 1 0-4 1 10 0 5 0-7 0-16 0 12 0 21 0-24 0-2 0 4 0 16 0-21 0 1 0 7 0-13 0 15 1 1 0-7 0 10 0-11 0 17 0-15 0-2 0 8 0 11 1-35 0 24 0-9 0 12 0-11 0-2 0 6 0 3 0-3 0-6 1 1 0 3 0-1 0 9 0 1 0-10 0-7 0 12 0 4 0-8 0 4 0 6 0-10 0 7 0-9 1 1 0-5 0 0 0 3 0 10 0-5 0 1 0-12 0 18 1-14 0-3 0 9 0 14 0 3 0-27 0 10 0-3 0 10 0-11 1-3 0 18 0-15 0 2 0 5 0-4 0 1 0-2 0-1 0 9 0 6 0-20 0 12 0-8 0 13 0-7 0-5 0-10 0 5 1 15 0-10 0-10 0 8 0 2 0 13 0-16 0 8 0 2 0-3 0-13 0 17 0 1 0-3 0 7 0 5 0-23 0 8 0-4 1 0 0 3 0 1 0 5 0-8 0 16 0-11 0 1 0-7 0 3 0 11 0-8 0 5 0-4 0 1 0 7 0-7 0-2 0-1 0 5 1-5 0-7 0 4 0 9 0-13 0 9 0 11 1-9 0-1 0-9 0-6 0 6 0 13 0 13 0-19 0 1 0 2 0 2 0-3 0 0 0-25 0 38 1-12 0-2 0 11 0-16 0 1 0 5 0-1 0-2 0-15 1 2 0 14 0-11 0 18 0-4 0-9 0 8 0-5 0 7 0-7 0-6 1 9 0 2 0-16 0 15 0-11 0 16 1-13 0 4 0-2 0 1 0 1 0 7 0-1 0 10 0-24 0-5 0 3 0 18 0-10 0 10 0-4 0-9 0 7 0-7 1 11 0-11 0 11 0-6 0-4 0 5 0-3 0 10 0-16 0 3 0 7 0 1 0-3 0-3 1 2 0 13 0-8 0-12 0 24 0-23 0 18 0-5 0-5 0-5 0 11 0 4 0-5 0-5 0-4 0 6 0-1 0 9 0-11 0-2 0-1 1 9 0-5 0 8 0-9 0 4 0 9 0-12 0 8 0 9 0-13 0-2 1 2 0 9 0 11 0-10 0-11 0 8 0 6 0 7 0-4 0-15 0 17 0-16 0 14 0-20 1 10 0-7 0 21 0-15 0 10 0-10 0 21 1-7 0 7 0 12 0 6 1-24 0 18 0 3 0 6 0 3 1 14 0-14 0-7 0-8 0 19 0-8 0-7 0 12 0-1 0-7 1 6 0 6 0-5 0 13 0-3 0 5 0-13 0 9 0 0 0 5 0 2 0 1 1 4 0-2 0 6 0-16 0 17 0-3 1 13 0 1 0-6 0 6 0-9 0 1 1 17 0 5 0 8 1 8 0 6 0-9 0 3 0 9 0-10 0-5 1 14 0 10 0-2 0-5 0-5 1 27 0-10 0 1 0 11 0 0 0-5 0 3 0 7 0-7 0-1 0 10 0-7 1 23 0-7 0 8 0 1 0 2 0 5 0-10 0 5 0 5 1 7 0 2 0 18 0-17 0 11 0-2 0 7 0-8 0 7 0 3 1-16 0 34 0 1 0-3 0 2 0-6 0 16 0-6 0 7 1 10 0-13 0 2 0 15 0-4 0 18 0-8 1 14 0-16 0 19 0-12 0 12 0-12 0 4 0 15 0 4 0-11 0 0 1-1 0-10 0 19 0 6 0-6 0-18 1 23 0 12 0 27 0-26 0-4 0 6 0-11 0 15 1 6 0-3 0-2 0 5 0-14 0 27 0-5 0 12 1 5 0-13 0 11 0-6 0 1 0-4 0-1 0 9 0-14 0 7 0-7 0 15 0 0 0-5 0 5 0-11 1-12 0 22 0-3 0-1 0 12 1 9 0-7 0 43 0-52 0 5 1-1 0 6 0-18 0 7 0 4 1-7 0 4 0 4 0-2 0-17 0 10 0 12 0-12 0 0 1 5 0-15 0 2 0-1 0 0 0-3 0-4 0-17 0 11 1 11 0-5 0-11 0-8 0-6 0 14 0-2 0-3 0 3 1-8 0-14 1 0 0-9 0 13 0-8 0-8 0 2 0 1 1-23 0-4 0 3 0-13 0 32 0-16 0 0 1 13 0-17 0-6 0 1 0-19 0 4 1-3 0-12 0 0 0 0 0 7 0-17 0 9 0-20 0 10 1-9 0-15 0 11 0 1 0-6 0 2 0-19 1-7 0 5 0-10 0 2 0 0 0-3 0 10 1-19 0 2 0-11 0-24 0 28 1-21 0-1 0-4 0 1 0-3 0 13 1-10 0-21 0 8 0 2 0-5 0 24 0-26 1-27 0 24 0-11 0-4 0 2 0-8 0 13 0 6 0-13 0 5 0-17 1 3 0 7 0 7 0-15 0-2 0 8 0-6 0-9 0-2 0 10 1 18 0-55 0 37 0-18 0 24 0-10 0-6 0-1 0 3 0-4 0-5 1-3 0 25 0-34 0 20 0-4 0-1 0 3 1-10 0-2 0-2 0-5 0-14 0 25 1-10 0-18 0 8 0 8 0 5 0-11 0 1 0-11 0 19 0-10 0-13 1-7 0 6 0 7 0-10 0 10 0-12 0 13 0-3 0-17 0 24 0-6 0-17 0 8 1-7 0 15 0-23 0 32 0-14 0-15 0 10 0-4 1-24 0 11 0-1 0-2 0 30 0-31 0 3 0 1 0 10 0-11 1 0 0-11 0 24 0-5 0-3 0-14 0 9 0-8 0 16 0-11 0 0 1 1 0 5 0-3 0 18 0-18 0 17 0-14 0-1 0-4 0-2 0-8 0 5 0 4 0 0 0 8 0-7 0-3 0 6 0 7 0-1 1-9 0 6 0 7 0-6 0 10 0-17 0 4 0-10 0 9 0 21 0-34 0 11 0 3 0 3 0 2 0-5 0-6 0 5 0 3 0 2 1-18 0 3 0 10 0 13 0-16 0-5 0 21 0-11 0 7 0-12 0 12 0-4 0 9 0-26 0 14 1-13 0 9 0-10 0 5 0 10 0 0 0 3 0 1 0-2 0-8 0 8 1-4 0-4 0 11 0-15 0 14 0-6 0-2 0 6 0 13 0-16 0-8 0 16 0 1 0-7 0 0 1-4 0-2 0-2 0 18 0-24 0 7 0 10 0 2 0-13 0 5 0-2 0 2 0-3 0-7 0 15 0-3 0 4 0 4 0-9 0 34 1-39 0 1 0-4 0 4 0-1 0-1 0 7 0-13 0 4 0 8 0-7 0 1 0 7 0 10 0-19 0-3 0 10 1 3 0-4 0 2 0-7 0 10 0-6 0-1 0 2 0-1 0-10 0 4 0 13 0-15 0 4 1 2 0 6 0-3 0 10 0-6 0-2 0-5 0 9 0 1 1 5 0-15 0 12 0-10 0 1 0 8 0-11 0 23 1-36 0 24 0-16 0 15 0-12 0 16 0-9 0 10 0-7 0-14 0-5 0 20 0-9 0-1 0 8 0-17 1 8 0 3 0 4 0-1 0 4 0-28 0 17 0 0 0 37 0-34 0-2 0 11 0-8 0 3 0 10 0-10 0-14 0 28 0-31 0 12 1 2 0-6 0 4 0 16 0-16 0 4 0 3 0-4 0-8 0 9 0 0 0-1 0 10 1-10 0-1 0 4 0-6 0 11 0-1 0-5 0-7 0 3 0-4 0 14 0-9 0-1 0 4 0-1 0 4 0-9 1 39 0-30 0 0 0-4 0-2 0 1 0-2 0 0 0-1 0 6 0 4 0 4 0 1 1-13 0 6 0-9 0 6 0-3 0-6 0 3 0 3 1-12 0 17 0-10 0 5 0-5 0 6 0 6 0-9 0-1 0-1 0-4 1 23 0-10 0 2 0-6 0 8 0-8 0 5 0-4 0-2 0-3 0 4 0 1 0 3 1 0 0 5 0 0 0-3 0-13 0 6 0 6 0 8 0-16 1-3 0 7 0 3 0-4 0 7 0-13 0 9 0-11 0 5 0 0 0 15 0 2 0-14 0 5 1-19 0 9 0 13 0-9 0 8 0-3 0 7 0-17 0 12 0-6 0 3 0 1 0 8 0-17 1 12 0-7 0-3 0 8 0 21 0-25 0 2 0 5 0-10 0 0 0 11 1 3 0-10 0 3 0-8 0-7 0 11 0-23 0 16 0 14 0-2 0-7 0 1 0 4 0 8 1-14 0 17 0-8 0-10 0 8 0-10 0 10 0 5 0-13 0 7 0-9 0 10 0 24 0-29 1 3 0 2 0 2 0 3 0-8 0 7 0-10 1 5 0-19 0 22 0-5 0 3 1-7 0-5 0-1 0 8 0-7 0 13 0-6 0 12 0-9 0 22 0-16 0-16 0 8 1 0 0-6 0 6 0 3 0-4 0-2 0 7 0-4 0 1 0 0 0 8 0-8 1 11 0-22 0-10 0 13 0 10 0 2 0-9 0 9 0-8 0-3 1 1 0 0 0 17 1-16 0 8 0-13 0 15 0-19 0 16 0-15 0 13 0 4 0-2 0-3 0-3 0-6 1 18 0-6 0-3 0-3 0 2 0-3 1 7 0-3 0 3 0 7 0-6 0-12 0-6 0 11 0 10 0-7 1-6 0 5 0 9 0-14 0 2 0 6 0-19 0 21 0-14 1 12 0-12 0 9 1 2 0 4 0-4 0-7 0 12 0-5 0 5 0-15 1 10 0 7 0-24 0 21 0-2 0-3 0-21 1 29 0-4 0-13 0 5 0 10 0-10 0 4 0 5 0-7 1-5 0 7 0-3 0 0 1 12 0-13 0-7 1 10 1 3 0 0 1-9 0 18 0-13 1-3 0 6 1-8 0 2 0 7 2 4 1-7 1-3 0 7 1-2 0 1 0 13 0-18 1 2 0 10 0-16 0 17 0-7 1-2 1-6 0 3 1 6 0-6 1 1 0-5 2 10 2 4 0-6 0-11 2 9 1-3 4 3 1 4 29-24" fill="none" marker-start="url(#o)" marker-mid="url(#o)" marker-end="url(#o)"/></g><path d="M63.7 43.04L64.0 43.05L64.3 43.05L64.6 43.06L64.8 43.07L65.1 43.07L65.4 43.08L65.7 43.09L66.0 43.09L66.3 43.10L66.6 43.10L66.8 43.11L67.1 43.12L67.4 43.12L67.7 43.13L68.0 43.14L68.3 43.14L68.6 43.15L68.8 43.16L69.1 43.16L69.4 43.17L69.7 43.17L70.0 43.18L70.3 43.19L70.6 43.19L70.8 43.20L71.1 43.21L71.4 43.21L71.7 43.22L72.0 43.22L72.3 43.23L72.6 43.24L72.8 43.24L73.1 43.25L73.4 43.25L73.7 43.26L74.0 43.27L74.3 43.27L74.6 43.28L74.8 43.28L75.1 43.29L75.4 43.30L75.7 43.30L76.0 43.31L76.3 43.31L76.6 43.32L76.8 43.32L77.1 43.33L77.4 43.34L77.7 43.34L78.0 43.35L78.3 43.35L78.6 43.36L78.8 43.36L79.1 43.37L79.4 43.37L79.7 43.38L80.0 43.39L80.3 43.39L80.6 43.40L80.8 43.40L81.1 43.41L81.4 43.41L81.7 43.42L82.0 43.42L82.3 43.43L82.6 43.43L82.8 43.44L83.1 43.44L83.4 43.45L83.7 43.45L84.0 43.46L84.3 43.46L84.6 43.47L84.8 43.47L85.1 43.48L85.4 43.48L85.7 43.49L86.0 43.49L86.3 43.50L86.6 43.50L86.8 43.51L87.1 43.51L87.4 43.52L87.7 43.52L88.0 43.53L88.3 43.53L88.6 43.53L88.8 43.54L89.1 43.54L89.4 43.55L89.7 43.55L90.0 43.56L90.3 43.56L90.6 43.56L90.8 43.57L91.1 43.57L91.4 43.58L91.7 43.58L92.0 43.59L92.3 43.59L92.6 43.59L92.8 43.60L93.1 43.60L93.4 43.61L93.7 43.61L94.0 43.61L94.3 43.62L94.6 43.62L94.8 43.63L95.1 43.63L95.4 43.63L95.7 43.64L96.0 43.64L96.3 43.64L96.6 43.65L96.8 43.65L97.1 43.65L97.4 43.66L97.7 43.66L98.0 43.66L98.3 43.67L98.6 43.67L98.8 43.67L99.1 43.68L99.4 43.68L99.7 43.68L100.0 43.69L100.3 43.69L100.6 43.69L100.8 43.70L101.1 43.70L101.4 43.70L101.7 43.70L102.0 43.71L102.3 43.71L102.6 43.71L102.8 43.71L103.1 43.72L103.4 43.72L103.7 43.72L104.0 43.73L104.3 43.73L104.6 43.73L104.8 43.73L105.1 43.73L105.4 43.74L105.7 43.74L106.0 43.74L106.3 43.74L106.6 43.75L106.8 43.75L107.1 43.75L107.4 43.75L107.7 43.75L108.0 43.76L108.3 43.76L108.6 43.76L108.8 43.76L109.1 43.76L109.4 43.77L109.7 43.77L110.0 43.77L110.3 45.97L110.6 48.74L110.8 53.38L111.1 58.21M130.6 58.21L130.9 53.38L131.1 48.74L131.4 45.97L131.7 43.77L132.0 43.77L132.3 43.77L132.6 43.76L132.9 43.76L133.1 43.76L133.4 43.76L133.7 43.76L134.0 43.75L134.3 43.75L134.6 43.75L134.9 43.75L135.1 43.75L135.4 43.74L135.7 43.74L136.0 43.74L136.3 43.74L136.6 43.73L136.9 43.73L137.1 43.73L137.4 43.73L137.7 43.73L138.0 43.72L138.3 43.72L138.6 43.72L138.9 43.71L139.1 43.71L139.4 43.71L139.7 43.71L140.0 43.70L140.3 43.70L140.6 43.70L140.9 43.70L141.1 43.69L141.4 43.69L141.7 43.69L142.0 43.68L142.3 43.68L142.6 43.68L142.9 43.67L143.1 43.67L143.4 43.67L143.7 43.66L144.0 43.66L144.3 43.66L144.6 43.65L144.9 43.65L145.1 43.65L145.4 43.64L145.7 43.64L146.0 43.64L146.3 43.63L146.6 43.63L146.9 43.63L147.1 43.62L147.4 43.62L147.7 43.61L148.0 43.61L148.3 43.61L148.6 43.60L148.9 43.60L149.1 43.59L149.4 43.59L149.7 43.59L150.0 43.58L150.3 43.58L150.6 43.57L150.9 43.57L151.1 43.56L151.4 43.56L151.7 43.56L152.0 43.55L152.3 43.55L152.6 43.54L152.9 43.54L153.1 43.53L153.4 43.53L153.7 43.53L154.0 43.52L154.3 43.52L154.6 43.51L154.9 43.51L155.1 43.50L155.4 43.50L155.7 43.49L156.0 43.49L156.3 43.48L156.6 43.48L156.9 43.47L157.1 43.47L157.4 43.46L157.7 43.46L158.0 43.45L158.3 43.45L158.6 43.44L158.9 43.44L159.1 43.43L159.4 43.43L159.7 43.42L160.0 43.42L160.3 43.41L160.6 43.41L160.9 43.40L161.1 43.40L161.4 43.39L161.7 43.39L162.0 43.38L162.3 43.37L162.6 43.37L162.9 43.36L163.1 43.36L163.4 43.35L163.7 43.35L164.0 43.34L164.3 43.34L164.6 43.33L164.9 43.32L165.1 43.32L165.4 43.31L165.7 43.31L166.0 43.30L166.3 43.30L166.6 43.29L166.9 43.28L167.1 43.28L167.4 43.27L167.7 43.27L168.0 43.26L168.3 43.25L168.6 43.25L168.9 43.24L169.1 43.24L169.4 43.23L169.7 43.22L170.0 43.22L170.3 43.21L170.6 43.21L170.9 43.20L171.1 43.19L171.4 43.19L171.7 43.18L172.0 43.17L172.3 43.17L172.6 43.16L172.9 43.16L173.1 43.15L173.4 43.14L173.7 43.14L174.0 43.13L174.3 43.12L174.6 43.12L174.9 43.11L175.1 43.10L175.4 43.10L175.7 43.09L176.0 43.09L176.3 43.08L176.6 43.07L176.9 43.07L177.1 43.06L177.4 43.05L177.7 43.05L178.0 43.04L178.3 43.03L178.6 43.03L178.9 43.02L179.1 43.01L179.4 43.01L179.7 43.00L180.0 42.99L180.3 42.99L180.6 42.98L180.9 42.97L181.1 42.97L181.4 42.96L181.7 42.95L182.0 42.95L182.3 42.94L182.6 42.93L182.9 42.93L183.1 42.92L183.4 42.91L183.7 42.91L184.0 42.90L184.3 42.89L184.6 42.89L184.9 42.88L185.1 42.87L185.4 42.87L185.7 42.86L186.0 42.85L186.3 42.84L186.6 42.84L186.9 42.83L187.1 42.82L187.4 42.82L187.7 42.81L188.0 42.80L188.3 42.80L188.6 42.79L188.9 42.78L189.1 42.78L189.4 42.77L189.7 42.76L190.0 42.76L190.3 42.75L190.6 42.74L190.9 42.73L191.1 42.73L191.4 42.72L191.7 42.71L192.0 42.71L192.3 42.70L192.6 42.69L192.9 42.69L193.1 42.68L193.4 42.67L193.7 42.67L194.0 42.66L194.3 42.65L194.6 42.64L194.9 42.64L195.1 42.63L195.4 42.62L195.7 42.62L196.0 42.61L196.3 42.60L196.6 42.60L196.9 42.59L197.1 42.58L197.4 42.58L197.7 42.57L198.0 42.56L198.3 42.56L198.6 42.55L198.9 42.54L199.1 42.53L199.4 42.53L199.7 42.52L200.0 42.51L200.3 42.51L200.6 42.50L200.9 42.49L201.1 42.49L201.4 42.48L201.7 42.47L202.0 42.47L202.3 42.46L202.6 42.45L202.9 42.45L203.1 42.44L203.4 42.43L203.7 42.43L204.0 42.42L204.3 42.41L204.6 42.41L204.9 42.40L205.1 42.39L205.4 42.39L205.7 42.38L206.0 42.37L206.3 42.37L206.6 42.36L206.9 42.35L207.1 42.35L207.4 42.34L207.7 42.33L208.0 42.33L208.3 42.32L208.6 42.31L208.9 42.31L209.1 42.30L209.4 42.30L209.7 42.29L210.0 42.28L210.3 42.28L210.6 42.27L210.9 42.26L211.1 42.26L211.4 42.25L211.7 42.24L212.0 42.24L212.3 42.23L212.6 42.23L212.9 42.22L213.1 42.21L213.4 42.21L213.7 42.20L214.0 42.19L214.3 42.19L214.6 42.18L214.9 42.18L215.1 42.17L215.4 42.16L215.7 42.16L216.0 42.15L216.3 42.15L216.6 42.14L216.9 42.13L217.1 42.13L217.4 42.12L217.7 42.12L218.0 42.11L218.3 42.10L218.6 42.10L218.9 42.09L219.1 42.09L219.4 42.08L219.7 42.08L220.0 42.07L220.3 42.06L220.6 42.06L220.9 42.05L221.1 42.05L221.4 42.04L221.7 42.04L222.0 42.03L222.3 42.03L222.6 42.02L222.9 42.01L223.1 42.01L223.4 42.00L223.7 42.00L224.0 41.99L224.3 41.99L224.6 41.98L224.9 41.98L225.1 41.97L225.4 41.97L225.7 41.96L226.0 41.96L226.3 41.95L226.6 41.95L226.9 41.94L227.1 41.94L227.4 41.93L227.7 41.93L228.0 41.92L228.3 41.92L228.6 41.91L228.9 41.91L229.1 41.90L229.4 41.90L229.7 41.89L230.0 41.89L230.3 41.88L230.6 41.88L230.9 41.87L231.1 41.87L231.4 41.87L231.7 41.86L232.0 41.86L232.3 41.85L232.6 41.85L232.9 41.84L233.1 41.84L233.4 41.84L233.7 41.83L234.0 41.83L234.3 41.82L234.6 41.82L234.9 41.81L235.1 41.81L235.4 41.81L235.7 41.80L236.0 41.80L236.3 41.79L236.6 41.79L236.9 41.79L237.2 41.78L237.4 41.78L237.7 41.77L238.0 41.77L238.3 41.77L238.6 41.76L238.9 41.76L239.2 41.76L239.4 41.75L239.7 41.75L240.0 41.75L240.3 41.74L240.6 41.74L240.9 41.74L241.2 41.73L241.4 41.73L241.7 41.73L242.0 41.72L242.3 41.72L242.6 41.72L242.9 41.71L243.2 41.71L243.4 41.71L243.7 41.70L244.0 41.70L244.3 41.70L244.6 41.70L244.9 41.69L245.2 41.69L245.4 41.69L245.7 41.69L246.0 41.68L246.3 41.68L246.6 41.68L246.9 41.67L247.2 41.67L247.4 41.67L247.7 41.67L248.0 41.67L248.3 41.66L248.6 41.66L248.9 41.66L249.2 41.66L249.4 41.65L249.7 41.65L250.0 41.65L250.3 41.65L250.6 41.65L250.9 41.64L251.2 41.64L251.4 41.64L251.7 41.64L252.0 41.64L252.3 41.63L252.6 41.63L252.9 41.92L253.2 42.51L253.4 43.23L253.7 44.04L254.0 44.84L254.3 45.65L254.6 46.54L254.9 47.46L255.2 48.38L255.4 49.30L255.7 50.22L256.0 51.14L256.3 52.07L256.6 52.99L256.9 53.91L257.2 54.83L257.4 55.75L257.7 56.54L258.0 57.32L258.3 58.11L258.6 58.89L258.9 59.67L259.2 60.46L259.4 61.24L259.7 62.03L260.0 62.81L260.3 63.60L260.6 64.38L260.9 65.16L261.2 65.85L261.4 66.53L261.7 67.22L262.0 67.90L262.3 68.58L262.6 69.00L262.9 69.24L263.2 69.49L263.4 69.73L263.7 69.98L264.0 69.73L264.3 69.49L264.6 69.24L264.9 69.00L265.2 68.58L265.4 67.90L265.7 67.22L266.0 66.53L266.3 65.85L266.6 65.16L266.9 64.38L267.2 63.60L267.4 62.81L267.7 62.03L268.0 61.24L268.3 60.46L268.6 59.67L268.9 58.89L269.2 58.11L269.4 57.32L269.7 56.54L270.0 55.75L270.3 54.83L270.6 53.91L270.9 52.99L271.2 52.07L271.4 51.14L271.7 50.22L272.0 49.30L272.3 48.38L272.6 47.46L272.9 46.54L273.2 45.65L273.4 44.84L273.7 44.04L274.0 43.23L274.3 42.51L274.6 41.92L274.9 41.63L275.2 41.63L275.4 41.64L275.7 41.64L276.0 41.64L276.3 41.64L276.6 41.64L276.9 41.65L277.2 41.65L277.4 41.65L277.7 41.65L278.0 41.65L278.3 41.66L278.6 41.66L278.9 41.66L279.2 41.66L279.4 41.67L279.7 41.67L280.0 41.67L280.3 41.67L280.6 41.67L280.9 41.68L281.2 41.68L281.4 41.68L281.7 41.69L282.0 41.69L282.3 41.69L282.6 41.69L282.9 41.70L283.2 41.70L283.4 41.70L283.7 41.70L284.0 41.71L284.3 41.71L284.6 41.71L284.9 41.72L285.2 41.72L285.4 41.72L285.7 41.73L286.0 41.73L286.3 41.73L286.6 41.74L286.9 41.74L287.2 41.74L287.4 41.75L287.7 41.75L288.0 41.75L288.3 41.76L288.6 41.76L288.9 41.76L289.2 41.77L289.4 41.77L289.7 41.77L290.0 41.78L290.3 41.78L290.6 41.79L290.9 41.79L291.2 41.79L291.4 41.80L291.7 41.80L292.0 41.81L292.3 41.81L292.6 41.81L292.9 41.82L293.2 41.82L293.4 41.83L293.7 41.83L294.0 41.84L294.3 41.84L294.6 41.84L294.9 41.85L295.2 41.85L295.4 41.86L295.7 41.86L296.0 41.87L296.3 41.87L296.6 41.87L296.9 41.88L297.2 41.88L297.4 41.89L297.7 41.89L298.0 41.90L298.3 41.90L298.6 41.91L298.9 41.91L299.2 41.92L299.4 41.92L299.7 41.93L300.0 41.93L300.3 41.94L300.6 41.94L300.9 41.95L301.2 41.95L301.4 41.96L301.7 41.96L302.0 41.97L302.3 41.97L302.6 41.98L302.9 41.98L303.2 41.99L303.4 41.99L303.7 42.00L304.0 42.00L304.3 42.01L304.6 42.01L304.9 42.02L305.2 42.03L305.4 42.03L305.7 42.04L306.0 42.04L306.3 42.05L306.6 42.05L306.9 42.06L307.2 42.06L307.4 42.07L307.7 42.08L308.0 42.08L308.3 42.09L308.6 42.09L308.9 42.10L309.2 42.10L309.4 42.11L309.7 42.12L310.0 42.12L310.3 42.13L310.6 42.13L310.9 42.14L311.2 42.15L311.4 42.15L311.7 42.16L312.0 42.16L312.3 42.17L312.6 42.18L312.9 42.18L313.2 42.19L313.4 42.19L313.7 42.20L314.0 42.21L314.3 42.21L314.6 42.22L314.9 42.23L315.2 42.23L315.4 42.24L315.7 42.24L316.0 42.25L316.3 42.26L316.6 42.26L316.9 42.27L317.2 42.28L317.4 42.28L317.7 42.29L318.0 42.30L318.3 42.30L318.6 42.31L318.9 42.31L319.2 42.32L319.4 42.33L319.7 42.33L320.0 42.34L320.3 42.35L320.6 42.35L320.9 42.36L321.2 42.37L321.4 42.37L321.7 42.38L322.0 42.39L322.3 42.39L322.6 42.40L322.9 42.41L323.2 42.41L323.4 42.42L323.7 42.43L324.0 42.43L324.3 42.44L324.6 42.45L324.9 42.45L325.2 42.46L325.4 42.47L325.7 42.47L326.0 42.48L326.3 42.49L326.6 42.49L326.9 42.50L327.2 42.51L327.4 42.51L327.7 42.52L328.0 42.53L328.3 42.53L328.6 42.54L328.9 42.55L329.2 42.56L329.4 42.56L329.7 42.57L330.0 42.58L330.3 42.58L330.6 42.59L330.9 42.60L331.2 42.60L331.4 42.61L331.7 42.62L332.0 42.62L332.3 42.63L332.6 42.64L332.9 42.64L333.2 42.65L333.4 42.66L333.7 42.67L334.0 42.67L334.3 42.68L334.6 42.69L334.9 42.69L335.2 42.70L335.4 42.71L335.7 42.71L336.0 42.72L336.3 42.73L336.6 42.73L336.9 42.74L337.2 42.75L337.4 42.76L337.7 42.76L338.0 42.77L338.3 42.78L338.6 42.78L338.9 42.79L339.2 42.80L339.4 42.80L339.7 42.81L340.0 42.82L340.3 42.82L340.6 42.83L340.9 42.84L341.2 42.84L341.4 42.85L341.7 42.86L342.0 42.87L342.3 42.87L342.6 42.88L342.9 42.89L343.2 42.89L343.4 42.90L343.7 42.91L344.0 42.91L344.3 42.92L344.6 42.93L344.9 42.93L345.2 42.94L345.4 42.95L345.7 42.95L346.0 42.96L346.3 42.97L346.6 42.97L346.9 42.98L347.2 42.99L347.4 42.99L347.7 43.00L348.0 43.01L348.3 43.01L348.6 43.02L348.9 43.03L349.2 43.03L349.4 43.04L349.7 43.05L350.0 43.05L350.3 43.06L350.6 43.07L350.9 43.07L351.2 43.08L351.5 43.09L351.7 43.09L352.0 43.10L352.3 43.10L352.6 43.11L352.9 43.12L353.2 43.12L353.5 43.13L353.7 43.14L354.0 43.14L354.3 43.15L354.6 43.16L354.9 43.16L355.2 43.17L355.5 43.17L355.7 43.18L356.0 43.19L356.3 43.19L356.6 43.20L356.9 43.21L357.2 43.21L357.5 43.22L357.7 43.22L358.0 43.23L358.3 43.24L358.6 43.24L358.9 43.25L359.2 43.25L359.5 43.26L359.7 43.27L360.0 43.27L360.3 43.28L360.6 43.28L360.9 43.29L361.2 43.30L361.5 43.30L361.7 43.31L362.0 43.31L362.3 43.32L362.6 43.32L362.9 43.33L363.2 43.34L363.5 43.34L363.7 43.35L364.0 43.35L364.3 43.36L364.6 43.36L364.9 43.37L365.2 43.37L365.5 43.38L365.7 43.39L366.0 43.39L366.3 43.40L366.6 43.40L366.9 43.41L367.2 43.41L367.5 43.42L367.7 43.42L368.0 43.43L368.3 43.43L368.6 43.44L368.9 43.44L369.2 43.45L369.5 43.45L369.7 43.46L370.0 43.46L370.3 43.47L370.6 43.47L370.9 43.48L371.2 43.48L371.5 43.49L371.7 43.49L372.0 43.50L372.3 43.50L372.6 43.51L372.9 43.51L373.2 43.52L373.5 43.52L373.7 43.53L374.0 43.53L374.3 43.53L374.6 43.54L374.9 43.54L375.2 43.55L375.5 43.55L375.7 43.56L376.0 43.56L376.3 43.56L376.6 43.57L376.9 43.57L377.2 43.58L377.5 43.58L377.7 43.59L378.0 43.59L378.3 43.59L378.6 43.60L378.9 43.60L379.2 43.61L379.5 43.61L379.7 43.61L380.0 43.62L380.3 43.62L380.6 43.63L380.9 43.63L381.2 43.63L381.5 43.64L381.7 43.64L382.0 43.64L382.3 43.65L382.6 43.65L382.9 43.65L383.2 43.66L383.5 43.66L383.7 43.66L384.0 43.67L384.3 43.67L384.6 43.67L384.9 43.68L385.2 43.68L385.5 43.68L385.7 43.69L386.0 43.69L386.3 43.69L386.6 43.70L386.9 43.70L387.2 43.70L387.5 43.70L387.7 43.71L388.0 43.71L388.3 43.71L388.6 43.71L388.9 43.72L389.2 43.72L389.5 43.72L389.7 43.73L390.0 43.73L390.3 43.73L390.6 43.73L390.9 43.73L391.2 43.74L391.5 43.74L391.7 43.74L392.0 43.74L392.3 43.75L392.6 43.75L392.9 43.75L393.2 43.75L393.5 43.75L393.7 43.76L394.0 43.76L394.3 43.76L394.6 43.76L394.9 43.76L395.2 43.77L395.5 43.77L395.7 43.77L396.0 45.97L396.3 48.74L396.6 53.38L396.9 58.21M416.3 58.21L416.6 53.38L416.9 48.74L417.2 45.97L417.5 43.77L417.7 43.77L418.0 43.77L418.3 43.76L418.6 43.76L418.9 43.76L419.2 43.76L419.5 43.76L419.7 43.75L420.0 43.75L420.3 43.75L420.6 43.75L420.9 43.75L421.2 43.74L421.5 43.74L421.7 43.74L422.0 43.74L422.3 43.73L422.6 43.73L422.9 43.73L423.2 43.73L423.5 43.73L423.7 43.72L424.0 43.72L424.3 43.72L424.6 43.71L424.9 43.71L425.2 43.71L425.5 43.71L425.7 43.70L426.0 43.70L426.3 43.70L426.6 43.70L426.9 43.69L427.2 43.69L427.5 43.69L427.7 43.68L428.0 43.68L428.3 43.68L428.6 43.67L428.9 43.67L429.2 43.67L429.5 43.66L429.7 43.66L430.0 43.66L430.3 43.65L430.6 43.65L430.9 43.65L431.2 43.64L431.5 43.64L431.7 43.64L432.0 43.63L432.3 43.63L432.6 43.63L432.9 43.62L433.2 43.62L433.5 43.61L433.7 43.61L434.0 43.61L434.3 43.60L434.6 43.60L434.9 43.59L435.2 43.59L435.5 43.59L435.7 43.58L436.0 43.58L436.3 43.57L436.6 43.57L436.9 43.56L437.2 43.56L437.5 43.56L437.7 43.55L438.0 43.55L438.3 43.54L438.6 43.54L438.9 43.53L439.2 43.53L439.5 43.53L439.7 43.52L440.0 43.52L440.3 43.51L440.6 43.51L440.9 43.50L441.2 43.50L441.5 43.49L441.7 43.49L442.0 43.48L442.3 43.48L442.6 43.47L442.9 43.47L443.2 43.46L443.5 43.46L443.7 43.45L444.0 43.45L444.3 43.44L444.6 43.44L444.9 43.43L445.2 43.43L445.5 43.42L445.7 43.42L446.0 43.41L446.3 43.41L446.6 43.40L446.9 43.40L447.2 43.39L447.5 43.39L447.7 43.38L448.0 43.37L448.3 43.37L448.6 43.36L448.9 43.36L449.2 43.35L449.5 43.35L449.7 43.34L450.0 43.34L450.3 43.33L450.6 43.32L450.9 43.32L451.2 43.31L451.5 43.31L451.7 43.30L452.0 43.30L452.3 43.29L452.6 43.28L452.9 43.28L453.2 43.27L453.5 43.27L453.7 43.26L454.0 43.25L454.3 43.25L454.6 43.24L454.9 43.24L455.2 43.23L455.5 43.22L455.7 43.22L456.0 43.21L456.3 43.21L456.6 43.20L456.9 43.19L457.2 43.19L457.5 43.18L457.7 43.17L458.0 43.17L458.3 43.16L458.6 43.16L458.9 43.15L459.2 43.14L459.5 43.14L459.7 43.13L460.0 43.12L460.3 43.12L460.6 43.11L460.9 43.10L461.2 43.10L461.5 43.09L461.7 43.09L462.0 43.08L462.3 43.07L462.6 43.07L462.9 43.06L463.2 43.05L463.5 43.05L463.7 43.04" fill="none" stroke="#c8c8c8" stroke-width="1.1"/><path d="M63.7 119.55L64.0 119.55L64.3 119.56L64.6 119.56L64.8 119.57L65.1 119.57L65.4 119.58L65.7 119.58L66.0 119.59L66.3 119.59L66.6 119.59L66.8 119.60L67.1 119.60L67.4 119.61L67.7 119.61L68.0 119.62L68.3 119.62L68.6 119.63L68.8 119.63L69.1 119.64L69.4 119.64L69.7 119.65L70.0 119.65L70.3 119.65L70.6 119.66L70.8 119.66L71.1 119.67L71.4 119.67L71.7 119.68L72.0 119.68L72.3 119.69L72.6 119.69L72.8 119.69L73.1 119.70L73.4 119.70L73.7 119.71L74.0 119.71L74.3 119.72L74.6 119.72L74.8 119.72L75.1 119.73L75.4 119.73L75.7 119.74L76.0 119.74L76.3 119.75L76.6 119.75L76.8 119.75L77.1 119.76L77.4 119.76L77.7 119.77L78.0 119.77L78.3 119.77L78.6 119.78L78.8 119.78L79.1 119.79L79.4 119.79L79.7 119.79L80.0 119.80L80.3 119.80L80.6 119.81L80.8 119.81L81.1 119.81L81.4 119.82L81.7 119.82L82.0 119.83L82.3 119.83L82.6 119.83L82.8 119.84L83.1 119.84L83.4 119.84L83.7 119.85L84.0 119.85L84.3 119.85L84.6 119.86L84.8 119.86L85.1 119.87L85.4 119.87L85.7 119.87L86.0 119.88L86.3 119.88L86.6 119.88L86.8 119.89L87.1 119.89L87.4 119.89L87.7 119.90L88.0 119.90L88.3 119.90L88.6 119.91L88.8 119.91L89.1 119.91L89.4 119.92L89.7 119.92L90.0 119.92L90.3 119.93L90.6 119.93L90.8 119.93L91.1 119.94L91.4 119.94L91.7 119.94L92.0 119.94L92.3 119.95L92.6 119.95L92.8 119.95L93.1 119.96L93.4 119.96L93.7 119.96L94.0 119.96L94.3 119.97L94.6 119.97L94.8 119.97L95.1 119.98L95.4 119.98L95.7 119.98L96.0 119.98L96.3 119.99L96.6 119.99L96.8 119.99L97.1 119.99L97.4 120.00L97.7 120.00L98.0 120.00L98.3 120.00L98.6 120.01L98.8 120.01L99.1 120.01L99.4 120.01L99.7 120.02L100.0 120.02L100.3 120.02L100.6 120.02L100.8 120.02L101.1 120.03L101.4 120.03L101.7 120.03L102.0 120.03L102.3 120.03L102.6 120.04L102.8 120.04L103.1 120.04L103.4 120.04L103.7 120.04L104.0 120.05L104.3 120.05L104.6 120.05L104.8 120.05L105.1 120.05L105.4 120.05L105.7 120.06L106.0 120.06L106.3 120.06L106.6 120.06L106.8 120.06L107.1 120.06L107.4 120.07L107.7 120.07L108.0 120.07L108.3 120.07L108.6 120.07L108.8 120.07L109.1 120.07L109.4 122.15L109.7 124.35L110.0 127.14L110.3 130.55L110.6 133.95L110.8 137.36M130.9 137.36L131.1 133.95L131.4 130.55L131.7 127.14L132.0 124.35L132.3 122.15L132.6 120.07L132.9 120.07L133.1 120.07L133.4 120.07L133.7 120.07L134.0 120.07L134.3 120.07L134.6 120.06L134.9 120.06L135.1 120.06L135.4 120.06L135.7 120.06L136.0 120.06L136.3 120.05L136.6 120.05L136.9 120.05L137.1 120.05L137.4 120.05L137.7 120.05L138.0 120.04L138.3 120.04L138.6 120.04L138.9 120.04L139.1 120.04L139.4 120.03L139.7 120.03L140.0 120.03L140.3 120.03L140.6 120.03L140.9 120.02L141.1 120.02L141.4 120.02L141.7 120.02L142.0 120.02L142.3 120.01L142.6 120.01L142.9 120.01L143.1 120.01L143.4 120.00L143.7 120.00L144.0 120.00L144.3 120.00L144.6 119.99L144.9 119.99L145.1 119.99L145.4 119.99L145.7 119.98L146.0 119.98L146.3 119.98L146.6 119.98L146.9 119.97L147.1 119.97L147.4 119.97L147.7 119.96L148.0 119.96L148.3 119.96L148.6 119.96L148.9 119.95L149.1 119.95L149.4 119.95L149.7 119.94L150.0 119.94L150.3 119.94L150.6 119.94L150.9 119.93L151.1 119.93L151.4 119.93L151.7 119.92L152.0 119.92L152.3 119.92L152.6 119.91L152.9 119.91L153.1 119.91L153.4 119.90L153.7 119.90L154.0 119.90L154.3 119.89L154.6 119.89L154.9 119.89L155.1 119.88L155.4 119.88L155.7 119.88L156.0 119.87L156.3 119.87L156.6 119.87L156.9 119.86L157.1 119.86L157.4 119.85L157.7 119.85L158.0 119.85L158.3 119.84L158.6 119.84L158.9 119.84L159.1 119.83L159.4 119.83L159.7 119.83L160.0 119.82L160.3 119.82L160.6 119.81L160.9 119.81L161.1 119.81L161.4 119.80L161.7 119.80L162.0 119.79L162.3 119.79L162.6 119.79L162.9 119.78L163.1 119.78L163.4 119.77L163.7 119.77L164.0 119.77L164.3 119.76L164.6 119.76L164.9 119.75L165.1 119.75L165.4 119.75L165.7 119.74L166.0 119.74L166.3 119.73L166.6 119.73L166.9 119.72L167.1 119.72L167.4 119.72L167.7 119.71L168.0 119.71L168.3 119.70L168.6 119.70L168.9 119.69L169.1 119.69L169.4 119.69L169.7 119.68L170.0 119.68L170.3 119.67L170.6 119.67L170.9 119.66L171.1 119.66L171.4 119.65L171.7 119.65L172.0 119.65L172.3 119.64L172.6 119.64L172.9 119.63L173.1 119.63L173.4 119.62L173.7 119.62L174.0 119.61L174.3 119.61L174.6 119.60L174.9 119.60L175.1 119.59L175.4 119.59L175.7 119.59L176.0 119.58L176.3 119.58L176.6 119.57L176.9 119.57L177.1 119.56L177.4 119.56L177.7 119.55L178.0 119.55L178.3 119.54L178.6 119.54L178.9 119.53L179.1 119.53L179.4 119.52L179.7 119.52L180.0 119.51L180.3 119.51L180.6 119.50L180.9 119.50L181.1 119.49L181.4 119.49L181.7 119.48L182.0 119.48L182.3 119.47L182.6 119.47L182.9 119.46L183.1 119.46L183.4 119.45L183.7 119.45L184.0 119.44L184.3 119.44L184.6 119.44L184.9 119.43L185.1 119.43L185.4 119.42L185.7 119.42L186.0 119.41L186.3 119.41L186.6 119.40L186.9 119.40L187.1 119.39L187.4 119.39L187.7 119.38L188.0 119.38L188.3 119.37L188.6 119.37L188.9 119.36L189.1 119.36L189.4 119.35L189.7 119.35L190.0 119.34L190.3 119.34L190.6 119.33L190.9 119.33L191.1 119.32L191.4 119.32L191.7 119.31L192.0 119.31L192.3 119.30L192.6 119.29L192.9 119.29L193.1 119.28L193.4 119.28L193.7 119.27L194.0 119.27L194.3 119.26L194.6 119.26L194.9 119.25L195.1 119.25L195.4 119.24L195.7 119.24L196.0 119.23L196.3 119.23L196.6 119.22L196.9 119.22L197.1 119.21L197.4 119.21L197.7 119.20L198.0 119.20L198.3 119.19L198.6 119.19L198.9 119.18L199.1 119.18L199.4 119.17L199.7 119.17L200.0 119.16L200.3 119.16L200.6 119.16L200.9 119.15L201.1 119.15L201.4 119.14L201.7 119.14L202.0 119.13L202.3 119.13L202.6 119.12L202.9 119.12L203.1 119.11L203.4 119.11L203.7 119.10L204.0 119.10L204.3 119.09L204.6 119.09L204.9 119.08L205.1 119.08L205.4 119.07L205.7 119.07L206.0 119.06L206.3 119.06L206.6 119.05L206.9 119.05L207.1 119.04L207.4 119.04L207.7 119.03L208.0 119.03L208.3 119.02L208.6 119.02L208.9 119.01L209.1 119.01L209.4 119.01L209.7 119.00L210.0 119.00L210.3 118.99L210.6 118.99L210.9 118.98L211.1 118.98L211.4 118.97L211.7 118.97L212.0 118.96L212.3 118.96L212.6 118.95L212.9 118.95L213.1 118.95L213.4 118.94L213.7 118.94L214.0 118.93L214.3 118.93L214.6 118.92L214.9 118.92L215.1 118.91L215.4 118.91L215.7 118.91L216.0 118.90L216.3 118.90L216.6 118.89L216.9 118.89L217.1 118.88L217.4 118.88L217.7 118.88L218.0 118.87L218.3 118.87L218.6 118.86L218.9 118.86L219.1 118.85L219.4 118.85L219.7 118.85L220.0 118.84L220.3 118.84L220.6 118.83L220.9 118.83L221.1 118.83L221.4 118.82L221.7 118.82L222.0 118.81L222.3 118.81L222.6 118.81L222.9 118.80L223.1 118.80L223.4 118.79L223.7 118.79L224.0 118.79L224.3 118.78L224.6 118.78L224.9 118.77L225.1 118.77L225.4 118.77L225.7 118.76L226.0 118.76L226.3 118.76L226.6 118.75L226.9 118.75L227.1 118.75L227.4 118.74L227.7 118.74L228.0 118.73L228.3 118.73L228.6 118.73L228.9 118.72L229.1 118.72L229.4 118.72L229.7 118.71L230.0 118.71L230.3 118.71L230.6 118.70L230.9 118.70L231.1 118.70L231.4 118.69L231.7 118.69L232.0 118.69L232.3 118.68L232.6 118.68L232.9 118.68L233.1 118.67L233.4 118.67L233.7 118.67L234.0 118.66L234.3 118.66L234.6 118.66L234.9 118.66L235.1 118.65L235.4 118.65L235.7 118.65L236.0 118.64L236.3 118.64L236.6 118.64L236.9 118.64L237.2 118.63L237.4 118.63L237.7 118.63L238.0 118.62L238.3 118.62L238.6 118.62L238.9 118.62L239.2 118.61L239.4 118.61L239.7 118.61L240.0 118.61L240.3 118.60L240.6 118.60L240.9 118.60L241.2 118.60L241.4 118.59L241.7 118.59L242.0 118.59L242.3 118.59L242.6 118.58L242.9 118.58L243.2 118.58L243.4 118.58L243.7 118.58L244.0 118.57L244.3 118.57L244.6 118.57L244.9 118.57L245.2 118.57L245.4 118.56L245.7 118.56L246.0 118.56L246.3 118.56L246.6 118.56L246.9 118.55L247.2 118.55L247.4 118.55L247.7 118.55L248.0 118.55L248.3 118.55L248.6 118.54L248.9 118.54L249.2 118.54L249.4 118.54L249.7 118.54L250.0 118.54L250.3 118.53L250.6 118.53L250.9 118.53L251.2 118.53L251.4 118.53L251.7 118.53L252.0 118.53L252.3 118.53L252.6 118.52L252.9 118.76L253.2 119.23L253.4 119.81L253.7 120.46L254.0 121.11L254.3 121.77L254.6 122.48L254.9 123.23L255.2 123.97L255.4 124.71L255.7 125.45L256.0 126.19L256.3 126.94L256.6 127.68L256.9 128.42L257.2 129.16L257.4 129.90L257.7 130.54L258.0 131.18L258.3 131.81L258.6 132.44L258.9 133.07L259.2 133.70L259.4 134.34L259.7 134.97L260.0 135.60L260.3 136.23L260.6 136.87L260.9 137.50L261.2 138.05L261.4 138.60L261.7 139.15L262.0 139.70L262.3 140.26L262.6 140.59L262.9 140.79L263.2 140.98L263.4 141.18L263.7 141.38L264.0 141.18L264.3 140.98L264.6 140.79L264.9 140.59L265.2 140.26L265.4 139.70L265.7 139.15L266.0 138.60L266.3 138.05L266.6 137.50L266.9 136.87L267.2 136.23L267.4 135.60L267.7 134.97L268.0 134.34L268.3 133.70L268.6 133.07L268.9 132.44L269.2 131.81L269.4 131.18L269.7 130.54L270.0 129.90L270.3 129.16L270.6 128.42L270.9 127.68L271.2 126.94L271.4 126.19L271.7 125.45L272.0 124.71L272.3 123.97L272.6 123.23L272.9 122.48L273.2 121.77L273.4 121.11L273.7 120.46L274.0 119.81L274.3 119.23L274.6 118.76L274.9 118.52L275.2 118.53L275.4 118.53L275.7 118.53L276.0 118.53L276.3 118.53L276.6 118.53L276.9 118.53L277.2 118.53L277.4 118.54L277.7 118.54L278.0 118.54L278.3 118.54L278.6 118.54L278.9 118.54L279.2 118.55L279.4 118.55L279.7 118.55L280.0 118.55L280.3 118.55L280.6 118.55L280.9 118.56L281.2 118.56L281.4 118.56L281.7 118.56L282.0 118.56L282.3 118.57L282.6 118.57L282.9 118.57L283.2 118.57L283.4 118.57L283.7 118.58L284.0 118.58L284.3 118.58L284.6 118.58L284.9 118.58L285.2 118.59L285.4 118.59L285.7 118.59L286.0 118.59L286.3 118.60L286.6 118.60L286.9 118.60L287.2 118.60L287.4 118.61L287.7 118.61L288.0 118.61L288.3 118.61L288.6 118.62L288.9 118.62L289.2 118.62L289.4 118.62L289.7 118.63L290.0 118.63L290.3 118.63L290.6 118.64L290.9 118.64L291.2 118.64L291.4 118.64L291.7 118.65L292.0 118.65L292.3 118.65L292.6 118.66L292.9 118.66L293.2 118.66L293.4 118.66L293.7 118.67L294.0 118.67L294.3 118.67L294.6 118.68L294.9 118.68L295.2 118.68L295.4 118.69L295.7 118.69L296.0 118.69L296.3 118.70L296.6 118.70L296.9 118.70L297.2 118.71L297.4 118.71L297.7 118.71L298.0 118.72L298.3 118.72L298.6 118.72L298.9 118.73L299.2 118.73L299.4 118.73L299.7 118.74L300.0 118.74L300.3 118.75L300.6 118.75L300.9 118.75L301.2 118.76L301.4 118.76L301.7 118.76L302.0 118.77L302.3 118.77L302.6 118.77L302.9 118.78L303.2 118.78L303.4 118.79L303.7 118.79L304.0 118.79L304.3 118.80L304.6 118.80L304.9 118.81L305.2 118.81L305.4 118.81L305.7 118.82L306.0 118.82L306.3 118.83L306.6 118.83L306.9 118.83L307.2 118.84L307.4 118.84L307.7 118.85L308.0 118.85L308.3 118.85L308.6 118.86L308.9 118.86L309.2 118.87L309.4 118.87L309.7 118.88L310.0 118.88L310.3 118.88L310.6 118.89L310.9 118.89L311.2 118.90L311.4 118.90L311.7 118.91L312.0 118.91L312.3 118.91L312.6 118.92L312.9 118.92L313.2 118.93L313.4 118.93L313.7 118.94L314.0 118.94L314.3 118.95L314.6 118.95L314.9 118.95L315.2 118.96L315.4 118.96L315.7 118.97L316.0 118.97L316.3 118.98L316.6 118.98L316.9 118.99L317.2 118.99L317.4 119.00L317.7 119.00L318.0 119.01L318.3 119.01L318.6 119.01L318.9 119.02L319.2 119.02L319.4 119.03L319.7 119.03L320.0 119.04L320.3 119.04L320.6 119.05L320.9 119.05L321.2 119.06L321.4 119.06L321.7 119.07L322.0 119.07L322.3 119.08L322.6 119.08L322.9 119.09L323.2 119.09L323.4 119.10L323.7 119.10L324.0 119.11L324.3 119.11L324.6 119.12L324.9 119.12L325.2 119.13L325.4 119.13L325.7 119.14L326.0 119.14L326.3 119.15L326.6 119.15L326.9 119.16L327.2 119.16L327.4 119.16L327.7 119.17L328.0 119.17L328.3 119.18L328.6 119.18L328.9 119.19L329.2 119.19L329.4 119.20L329.7 119.20L330.0 119.21L330.3 119.21L330.6 119.22L330.9 119.22L331.2 119.23L331.4 119.23L331.7 119.24L332.0 119.24L332.3 119.25L332.6 119.25L332.9 119.26L333.2 119.26L333.4 119.27L333.7 119.27L334.0 119.28L334.3 119.28L334.6 119.29L334.9 119.29L335.2 119.30L335.4 119.31L335.7 119.31L336.0 119.32L336.3 119.32L336.6 119.33L336.9 119.33L337.2 119.34L337.4 119.34L337.7 119.35L338.0 119.35L338.3 119.36L338.6 119.36L338.9 119.37L339.2 119.37L339.4 119.38L339.7 119.38L340.0 119.39L340.3 119.39L340.6 119.40L340.9 119.40L341.2 119.41L341.4 119.41L341.7 119.42L342.0 119.42L342.3 119.43L342.6 119.43L342.9 119.44L343.2 119.44L343.4 119.44L343.7 119.45L344.0 119.45L344.3 119.46L344.6 119.46L344.9 119.47L345.2 119.47L345.4 119.48L345.7 119.48L346.0 119.49L346.3 119.49L346.6 119.50L346.9 119.50L347.2 119.51L347.4 119.51L347.7 119.52L348.0 119.52L348.3 119.53L348.6 119.53L348.9 119.54L349.2 119.54L349.4 119.55L349.7 119.55L350.0 119.56L350.3 119.56L350.6 119.57L350.9 119.57L351.2 119.58L351.5 119.58L351.7 119.59L352.0 119.59L352.3 119.59L352.6 119.60L352.9 119.60L353.2 119.61L353.5 119.61L353.7 119.62L354.0 119.62L354.3 119.63L354.6 119.63L354.9 119.64L355.2 119.64L355.5 119.65L355.7 119.65L356.0 119.65L356.3 119.66L356.6 119.66L356.9 119.67L357.2 119.67L357.5 119.68L357.7 119.68L358.0 119.69L358.3 119.69L358.6 119.69L358.9 119.70L359.2 119.70L359.5 119.71L359.7 119.71L360.0 119.72L360.3 119.72L360.6 119.72L360.9 119.73L361.2 119.73L361.5 119.74L361.7 119.74L362.0 119.75L362.3 119.75L362.6 119.75L362.9 119.76L363.2 119.76L363.5 119.77L363.7 119.77L364.0 119.77L364.3 119.78L364.6 119.78L364.9 119.79L365.2 119.79L365.5 119.79L365.7 119.80L366.0 119.80L366.3 119.81L366.6 119.81L366.9 119.81L367.2 119.82L367.5 119.82L367.7 119.83L368.0 119.83L368.3 119.83L368.6 119.84L368.9 119.84L369.2 119.84L369.5 119.85L369.7 119.85L370.0 119.85L370.3 119.86L370.6 119.86L370.9 119.87L371.2 119.87L371.5 119.87L371.7 119.88L372.0 119.88L372.3 119.88L372.6 119.89L372.9 119.89L373.2 119.89L373.5 119.90L373.7 119.90L374.0 119.90L374.3 119.91L374.6 119.91L374.9 119.91L375.2 119.92L375.5 119.92L375.7 119.92L376.0 119.93L376.3 119.93L376.6 119.93L376.9 119.94L377.2 119.94L377.5 119.94L377.7 119.94L378.0 119.95L378.3 119.95L378.6 119.95L378.9 119.96L379.2 119.96L379.5 119.96L379.7 119.96L380.0 119.97L380.3 119.97L380.6 119.97L380.9 119.98L381.2 119.98L381.5 119.98L381.7 119.98L382.0 119.99L382.3 119.99L382.6 119.99L382.9 119.99L383.2 120.00L383.5 120.00L383.7 120.00L384.0 120.00L384.3 120.01L384.6 120.01L384.9 120.01L385.2 120.01L385.5 120.02L385.7 120.02L386.0 120.02L386.3 120.02L386.6 120.02L386.9 120.03L387.2 120.03L387.5 120.03L387.7 120.03L388.0 120.03L388.3 120.04L388.6 120.04L388.9 120.04L389.2 120.04L389.5 120.04L389.7 120.05L390.0 120.05L390.3 120.05L390.6 120.05L390.9 120.05L391.2 120.05L391.5 120.06L391.7 120.06L392.0 120.06L392.3 120.06L392.6 120.06L392.9 120.06L393.2 120.07L393.5 120.07L393.7 120.07L394.0 120.07L394.3 120.07L394.6 120.07L394.9 120.07L395.2 122.15L395.5 124.35L395.7 127.14L396.0 130.55L396.3 133.95L396.6 137.36M416.6 137.36L416.9 133.95L417.2 130.55L417.5 127.14L417.7 124.35L418.0 122.15L418.3 120.07L418.6 120.07L418.9 120.07L419.2 120.07L419.5 120.07L419.7 120.07L420.0 120.07L420.3 120.06L420.6 120.06L420.9 120.06L421.2 120.06L421.5 120.06L421.7 120.06L422.0 120.05L422.3 120.05L422.6 120.05L422.9 120.05L423.2 120.05L423.5 120.05L423.7 120.04L424.0 120.04L424.3 120.04L424.6 120.04L424.9 120.04L425.2 120.03L425.5 120.03L425.7 120.03L426.0 120.03L426.3 120.03L426.6 120.02L426.9 120.02L427.2 120.02L427.5 120.02L427.7 120.02L428.0 120.01L428.3 120.01L428.6 120.01L428.9 120.01L429.2 120.00L429.5 120.00L429.7 120.00L430.0 120.00L430.3 119.99L430.6 119.99L430.9 119.99L431.2 119.99L431.5 119.98L431.7 119.98L432.0 119.98L432.3 119.98L432.6 119.97L432.9 119.97L433.2 119.97L433.5 119.96L433.7 119.96L434.0 119.96L434.3 119.96L434.6 119.95L434.9 119.95L435.2 119.95L435.5 119.94L435.7 119.94L436.0 119.94L436.3 119.94L436.6 119.93L436.9 119.93L437.2 119.93L437.5 119.92L437.7 119.92L438.0 119.92L438.3 119.91L438.6 119.91L438.9 119.91L439.2 119.90L439.5 119.90L439.7 119.90L440.0 119.89L440.3 119.89L440.6 119.89L440.9 119.88L441.2 119.88L441.5 119.88L441.7 119.87L442.0 119.87L442.3 119.87L442.6 119.86L442.9 119.86L443.2 119.85L443.5 119.85L443.7 119.85L444.0 119.84L444.3 119.84L444.6 119.84L444.9 119.83L445.2 119.83L445.5 119.83L445.7 119.82L446.0 119.82L446.3 119.81L446.6 119.81L446.9 119.81L447.2 119.80L447.5 119.80L447.7 119.79L448.0 119.79L448.3 119.79L448.6 119.78L448.9 119.78L449.2 119.77L449.5 119.77L449.7 119.77L450.0 119.76L450.3 119.76L450.6 119.75L450.9 119.75L451.2 119.75L451.5 119.74L451.7 119.74L452.0 119.73L452.3 119.73L452.6 119.72L452.9 119.72L453.2 119.72L453.5 119.71L453.7 119.71L454.0 119.70L454.3 119.70L454.6 119.69L454.9 119.69L455.2 119.69L455.5 119.68L455.7 119.68L456.0 119.67L456.3 119.67L456.6 119.66L456.9 119.66L457.2 119.65L457.5 119.65L457.7 119.65L458.0 119.64L458.3 119.64L458.6 119.63L458.9 119.63L459.2 119.62L459.5 119.62L459.7 119.61L460.0 119.61L460.3 119.60L460.6 119.60L460.9 119.59L461.2 119.59L461.5 119.59L461.7 119.58L462.0 119.58L462.3 119.57L462.6 119.57L462.9 119.56L463.2 119.56L463.5 119.55L463.7 119.55" fill="none" stroke="#c8c8c8" stroke-width="0.85"/></g><g clip-path="url(#cl)"><path d="M63.75 405.34H463.75" stroke="#6a6a6a" stroke-width="1" stroke-dasharray="1.3 2.5"/><g transform="scale(0.5)"><path d="M192 824l0-29 1 23 2-21 1 11 1-15 0 20 1-13 0 2 0 22 1-12 0 5 0-2 2 7 0-17 1 0 0 0 0 26 1-22 0 5 1 15 0-15 1-21 1 29 0-12 1-10 0 2 0-1 1 18 0-15 0 4 1-6 0 16 0-10 0 0 1-5 2 5 0-10 0 9 0 9 1 10 0-14 0-4 0-12 0 14 1-6 0 15 0-18 1 16 0-37 0 21 0-1 1 16 0-34 1 11 0-5 0 13 0-2 0 3 0 0 0 13 0-29 1 20 0-15 0 12 0-2 0-1 1 0 0 9 0-41 1 43 0-16 0 20 0-8 0-8 0-3 0 3 1-18 0-3 0 48 0 2 0 18 2-45 0-4 0 28 0 5 1-10 0-8 0-18 0 16 0 5 1 9 0-16 0-6 0 20 0-29 1 21 0 5 0-27 0 19 0 20 0-41 1 15 0-10 0 5 0 10 0 1 0-12 1 27 0-20 0-11 0 7 0-14 0 2 0 53 0-35 0 49 1-63 0 17 1 14 0 15 0-2 0-7 0-23 0 22 0 4 0-5 0-13 1-45 0 56 0-4 0-13 0-16 0 28 0-22 0-8 0 11 1-7 0 13 0 5 0 5 1-46 0 29 0-11 0-4 1 11 0 2 0 13 0-14 1 8 0 19 0 0 0 27 0-17 0-46 0 15 1-3 0-1 0 38 0-26 0 24 0-45 0 25 1-15 0 27 0-27 0 21 0 20 0-39 0 9 1 3 0 18 1-43 0 19 0-9 0 1 0-3 0 18 1 23 0-50 0 66 0-21 0 2 1-56 0 35 0-6 0-6 1 39 0-22 0 9 0-25 1-5 0-8 0 24 0 20 0-45 0 32 1-9 0-14 0 28 1-14 0 10 0 5 0-30 0 2 0 4 2 10 0-43 0 50 0 4 0-41 0 34 1-23 0 21 0 0 0-17 0 26 1-22 0 30 0-29 1 20 0-8 0 19 0-27 1-7 0 14 0-13 0 6 0 8 1-24 0 45 0-22 0 2 0-2 0-3 0 1 1-1 0 12 0-31 0 26 1-15 0-14 0 24 0-33 0 46 0-17 0-17 0 20 0 20 0-11 1 7 0-34 0 16 0 0 0 24 1-8 0-26 0 25 0-21 0-4 0 27 1-38 0 33 0-25 0-6 0 44 1-29 0-5 0-5 1 33 0-26 1 15 0 25 0-35 0-37 1 30 0 11 0-13 0 4 0 27 1-4 0-25 1-36 0 48 0 7 0-11 0 24 2-4 0-22 1-6 0-14 1 15 0-24 0 23 0 18 1-17 0 1 0-4 0 4 0-2 1 8 0 10 0-2 0-13 0-5 1-2 0 13 0 7 0-22 1 16 0-17 0 13 0-4 1 8 0-7 0 12 1-10 1 9 1-26 0 3 0 27 0-20 0-2 1-4 0 35 0-16 0-26 1 22 1 3 0-1 1 0 1 4 0-14 1 10 0 1 1-28 1 16 0-3 0 17 1 1 0-2 1 21 0-26 0-2 0-6 1 22 0-1 1-11 0-15 0 0 0 12 1 9 0-5 1-10 2 15 1-18 0 10 2-14 3 12 1-10 26-12 1 8 0 2 0-14 1 19 0-16 0 7 0-1 158 13 1 10 0 2 1-22 1-2 0 30 0-23 1 11 0 3 1-2 1 12 0-16 0 7 0 1 1-18 0 14 0-36 2 43 0-7 1 47 0-55 1 9 0-8 0-8 1 17 0-13 0 12 1-14 1 21 0-9 0-3 0-2 0 2 1 9 0-7 1 3 1-14 1-14 0 29 1 3 0-11 0 23 1-20 0 46 1-51 0 38 0-33 1 16 0-4 0-4 0-3 0-9 0 7 1 0 1-17 0 18 1-1 0-11 0 11 1 5 0 7 2-6 1-10 1-1 0 8 0-8 0 9 2-7 1 0 0 6 0-12 2 16 0-12 0 4 0-3 1 6 0-12 1 2 0-8 0 23 0 4 1-3 0 4 3-16 1 4 0-22 0 21 1-5 0 18 1-19 1 13 1-19 0 25 0-11 1 1 1 6 0-4 0 10 0-21 1 13 0 7 0-16 3 12 1-7 1 11 1-11 1 23 0-20 1-25 0 26 0 7 3-13 1 2 3-7 0-1 56-6 1 0 0-1 0 1 1-4 0 5 1-10 12-4 1-2 0-6 1 38 0-3 1-3 0-15 0 14 0-22 1-2 140 40 1-29 0 23 2-21 1 11 1-15 0 20 1-13 1 2 0 22 0-12 0 5 1-2 1 7 1-17 0 0 1 0 0 26 0-22 1 5 0 15 1-15 1-21 0 29 1-12 0-10 1 2 0-1 0 18 0-15 1 4 0-6 0 16 1-10 0 0 1-5 1 5 0-10 0 9 1 9 0 10 0-14 0-4 0-12 1 14 0-6 0 15 1-18 0 16 1-37 0 21 0-1 1 16 0-34 0 11 0-5 0 13 0-2 0 3 1 0 0 13 0-29 0 20 0-15 0 12 1-2 0-1 0 0 1 9 0-41 0 43 0-16 0 20 0-8 0-8 0-3 1 3 0-18 0-3 1 48 0 2 0 18 1-45 0-4 0 28 1 5 0-10 0-8 1-18 0 16 0 5 0 9 0-16 1-6 0 20 0-29 0 21 0 5 0-27 0 19 0 20 1-41 0 15 0-10 1 5 0 10 0 1 0-12 0 27 0-20 0-11 1 7 0-14 0 2 0 53 0-35 0 49 1-63 0 17 0 14 0 15 1-2 0-7 0-23 0 22 0 4 0-5 0-13 0-45 0 56 0-4 0-13 0-16 1 28 0-22 0-8 0 11 0-7 0 13 1 5 0 5 0-46 1 29 0-11 0-4 0 11 0 2 0 13 1-14 0 8 0 19 0 0 0 27 0-17 1-46 0 15 0-3 0-1 0 38 1-26 0 24 0-45 0 25 0-15 0 27 0-27 0 21 0 20 1-39 0 9 0 3 1 18 0-43 0 19 0-9 0 1 1-3 0 18 0 23 0-50 0 66 0-21 1 2 0-56 1 35 0-6 0-6 0 39 0-22 1 9 0-25 0-5 0-8 0 24 0 20 1-45 0 32 0-9 0-14 1 28 0-14 0 10 0 5 1-30 0 2 0 4 1 10 0-43 0 50 0 4 1-41 0 34 0-23 0 21 0 0 0-17 1 26 1-22 0 30 0-29 0 20 0-8 1 19 0-27 0-7 0 14 1-13 0 6 0 8 0-24 0 45 0-22 0 2 0-2 1-3 0 1 1-1 0 12 0-31 0 26 0-15 0-14 0 24 0-33 0 46 0-17 1-17 0 20 0 20 0-11 0 7 0-34 1 16 0 0 0 24 0-8 0-26 0 25 1-21 0-4 0 27 0-38 0 33 0-25 1-6 0 44 0-29 1-5 0-5 0 33 0-26 2 15 0 25 0-35 0-37 0 30 0 11 1-13 0 4 0 27 0-4 0-25 1-36 0 48 0 7 1-11 0 24 1-4 0-22 2-6 0-14 0 15 0-24 0 23 1 18 0-17 0 1 0-4 1 4 0-2 0 8 0 10 0-2 0-13 1-5 0-2 0 13 1 7 0-22 0 16 1-17 0 13 0-4 1 8 0-7 0 12 0-10 1 9 1-26 0 3 0 27 1-20 0-2 0-4 0 35 0-16 0-26 2 22 0 3 0-1 1 0 1 4 1-14 0 10 1 1 0-28 1 16 0-3 1 17 0 1 1-2 0 21 1-26 0-2 0-6 0 22 1-1 0-11 0-15 1 0 0 12 0 9 1-5 0-10 2 15 2-18 0 10 2-14 3 12 0-10 27-12 0 8 1 2 0-14 0 19 0-16 0 7 1-1" fill="none" marker-start="url(#q)" marker-mid="url(#q)" marker-end="url(#q)"/><path d="M126 950l0 3 0-4 1 17 1-27 0 0 1 18 2 7 24-33 5-1 0 27 1 25 1-33 1 8 1 11 0-40 1 27 0-1 0 7 4-11 1-7 1 22 3-17 0-28 0 18 1 30 0-14 0 23 1 15 0-43 0 16 0 18 0-54 0 25 1-1 0 6 0-2 1-30 0 36 0-35 1 27 0 27 0-12 0-30 1 25 0-46 0 22 0-2 0 9 1-3 0 20 0 10 0-11 1-72 0 39 0-2 0 46 0-15 0-37 1 37 0 1 0-3 0 51 0-80 0 20 0 12 0-39 0 48 0-48 0 43 0-21 1-15 0 45 0-44 0 31 0-78 0 75 0-24 1 36 0-13 0 11 0-5 0-42 1 41 0-16 0-4 0 32 0-11 0 11 1-37 0 20 0 11 0-16 0-17 0 11 0 14 0 10 0-23 1 4 0 10 0-11 0 15 0-1 0 1 0-33 0 19 0-10 1 37 0-23 0-14 0 21 0-1 0-16 0 22 0-8 1-36 0 24 0 2 0 44 0-33 0-9 0-4 0 14 0 7 0-8 0-22 0 27 0 11 0-11 0-39 1 32 0-14 0 6 0 3 0-20 0 14 0-18 0 12 0 21 0 10 1 5 0-4 0-16 0-18 0 19 0 20 0-70 0 36 1 18 0 6 0-2 0-28 0 34 0-25 0 1 0-6 0-16 0 34 0 1 0 13 0-23 1-11 0-21 0 17 0-10 0 85 0-34 0-42 0-10 0 29 1-35 0 39 0 26 0-44 0 22 0-18 0-11 0 28 1-20 0 12 0-18 0 8 0 11 0 24 0-23 0-11 0 6 0 24 0-34 0 43 1-45 0 11 0 6 0-6 0-14 1 26 0 2 0 2 0 3 0-1 0 6 0-14 0-9 0-1 0 3 1-18 0 27 0-7 0-14 0 44 0-30 0-16 0 22 0-7 0-14 0 37 0-30 0 49 1-39 0 21 0-20 0-12 0 46 0-47 0 11 0-30 0 2 0 24 0 10 0 1 0-17 0 2 0-8 0 0 0 35 1-18 0-7 0 0 0 6 0 9 0-27 0-2 0 12 0 2 0-9 0 27 0 14 0-19 0-43 0 33 0 54 0-64 0-5 0 12 0 43 1-58 0 3 0 18 0-33 0 38 0 3 0-18 0 27 0-30 1 46 0-39 0-6 0 21 0 29 0-92 0 62 0-23 0 32 0-31 0-4 1 16 0 8 0-7 0-17 0 3 0 8 0-3 0 25 0 2 0-27 0-18 0 31 1 11 0-22 0 11 0 17 0-26 0 17 0-23 0 2 0-13 1 1 0 8 0 26 0-14 0 3 0-33 0 50 0-39 0-7 0 24 0 37 0 7 1-72 0 27 0-9 0 28 0-29 0-9 0 49 0-41 0 6 0 13 0-10 0 3 0-7 0 0 1 21 0 17 0-53 0 31 0-21 0 36 0-18 0-14 0-28 0 15 0 39 0-26 0-27 0 22 0 5 0 33 0-40 0 19 0 6 0-8 1-34 0 45 0 4 0-9 0 18 0 14 0-61 0 22 0-12 0-1 0 10 0 1 0 12 0-20 0 44 0-31 0 4 0-20 0 10 0 28 1-21 0 12 0-10 0 4 0 17 0-18 0-5 0-4 0 13 0-11 0-20 0 11 0 23 1-34 0 25 0 28 0-23 0-2 0-24 0-18 0 17 0 34 0 36 0-53 0 5 0 4 1 7 0-9 0 0 0-67 0 103 0-34 0-4 0 28 0-42 0 2 1 14 0-2 0-7 0-39 0 6 0 38 0-31 0 47 1-10 0-24 0 21 0-13 0 20 0-19 0-15 0 22 0 6 1-42 0 40 0-31 0 44 0-36 0 10 0-4 0 3 0 2 0 20 0-3 0 27 0-65 0-12 0 6 1 49 0-27 0 26 0-9 0-24 0 17 0-18 0 31 0-32 0 32 0-16 0-13 0 13 0-6 0 26 0-42 0 7 0 20 1 1 0-8 0-6 0 5 0 34 0-21 0-32 0 64 0-61 0 46 0-12 0-14 0-13 1 29 0 10 0-11 0-16 0-8 0 14 0-3 0 24 0-30 0-4 0-3 0 25 0-15 0 22 0-25 0 9 1 21 0-31 0 16 0 23 0-33 0-6 0 1 0 21 0 31 0-28 0-31 0 19 0 15 0 19 0-14 1-39 0 45 0-45 0 17 0-18 0 6 0 27 0-34 0-23 0 54 0-9 0-1 0-40 0 50 0-39 0 5 0-19 0 48 0 5 0-25 0 19 0 8 0 18 1-68 0 47 0-22 0-1 0-1 0 4 0-36 0 62 0-28 0 15 0-34 0 64 0-51 0 16 0 5 0-23 0-19 0 16 0 5 0 6 0-43 1 25 0 39 0-5 0-22 0 19 0 9 0 13 0-30 0 30 0-11 0-58 0 28 0-23 0 34 0-40 0 43 0-10 0 21 1-32 0 49 0-82 0 65 0-11 0 2 0 16 0-25 0 19 0 37 0-45 0 6 0-6 0-14 0-17 0 31 0-37 0 3 0 46 0-28 0 9 0-3 0-21 1 45 0-48 0 33 0-2 0-5 0 27 0-15 0-40 0 34 0-27 0 78 0-71 0 5 0 29 0-28 0 7 0-1 0 31 0-28 0-14 0 25 0 7 0-18 0 8 0 42 1-28 0-51 0 12 0 19 0 2 0 12 0 10 0-7 0 1 0-24 0-2 0 10 0-2 0 20 0-53 0 30 0-29 0 46 0-30 0 43 0-3 0-3 1-47 0 6 0 42 0-12 0 18 0-28 0 3 0 30 0 3 0-41 0 19 0 13 1-19 0-14 0 1 0 19 0-20 0-9 0 29 0 25 0-49 0-5 0 46 0-22 0 69 0-84 1 7 0 49 0-46 0 16 0-16 0 26 0-13 0-18 0-12 0-11 0 57 0-23 0 27 0-46 0-3 0-5 0 23 1-13 0 19 0-3 0 23 0-36 0-16 0 46 0 15 0-37 0 4 0-1 0 4 0 19 0-24 0 15 0-21 0-1 0 12 0 14 0-31 0-41 0 52 1-22 0 9 0 16 0-35 0 32 0-12 0-10 0 22 0-7 0 31 0-32 0 23 0 13 0-26 0-34 0 31 0 2 0-19 0 43 0 2 0-4 0-72 0-3 0 46 0-22 0 25 0-9 1 58 0-49 0-38 0 17 0 37 0-55 0 28 0-3 0 25 0-12 0-9 0-4 0 4 0 4 0-5 0 38 0-18 0-30 0 27 0 8 0-18 0 20 1-1 0 5 0-7 0-7 0-23 0 9 0-11 0 13 0 3 0 4 0 3 0 5 0-36 0 3 0 24 0-8 0 45 0-47 1-47 0 50 0 19 0-18 0 10 0 18 0-24 0-23 0 77 0-47 0-2 0 5 0-32 0 28 0-13 0 9 0 13 0 3 0-68 0 90 0 4 0-12 0-9 0-51 0 29 1 13 0-16 0-17 0 5 0 1 0 25 0 13 0-31 0 19 0 8 0 7 0-22 0-23 0 2 0 6 0 35 0-1 0-6 0-15 1 6 0 7 0-22 0 12 0-18 0 5 0 21 0 23 0-22 0-8 0 26 0-28 0-35 0 60 0-49 0 52 0-36 0 25 0-32 0 30 0-33 0 13 0-5 1 39 0 5 0-16 0-26 0 0 0 2 0-7 0 24 0-54 0 49 0 13 0-17 0 10 0-20 0-57 0 43 1 12 0-27 0-22 0 36 0 35 0-9 0-12 0-4 0 72 0-40 0-41 0 23 0-20 0 28 0-20 0 5 0 85 0-73 0-13 0-5 1 12 0-22 0 27 0 25 0-32 0-49 0 30 0 6 0-16 0 39 0-38 0 21 0 35 0-15 0 0 0-10 0 1 0-40 0 7 0 19 0 13 0-39 0 71 1 13 0-43 0-1 0-22 0 23 0-4 0-13 0 23 0-22 0 47 0-62 0 47 0-57 0 79 0 15 0-72 0 31 0-14 0-13 0 35 0-32 0 33 0-32 0 13 0 0 1-11 0-5 0 4 0 22 0-39 0 18 0-18 0 38 0-1 0-21 0-14 0 12 0 6 0-22 0 31 0-21 0-10 0 8 0 5 0-48 0 59 0-11 0 24 0-16 0-34 0 43 0 6 0-31 0-12 0 39 0-27 1-3 0 19 0 10 0 1 0-23 0 7 0 25 0-27 0-5 0 9 1 105 0-108 0-5 0-27 0 55 0-10 0-31 0 82 0-77 0 38 0-35 0 9 0 0 0 9 0-4 0-17 1 18 0 8 0 4 0-8 0-39 0 41 0 28 0-45 0 1 0 13 0-54 0 36 0 14 0 0 0 11 0-25 0 15 0 17 0 6 0-43 1 40 0-43 0 1 0 2 0 25 0 32 0-39 0 10 0 28 0 14 0-37 0-23 0 42 0-36 0-2 0 8 0-4 0 23 0-19 0 0 0 17 0-16 0-15 1 15 0 20 0-12 0-12 0 1 0-23 0-21 0 58 0-28 0 34 0-33 0 20 0-4 0-12 0 42 0-4 0-35 0-14 0 38 0-38 0 11 0-23 0 53 0 47 0-73 0-18 0 25 1 2 0-8 0-28 0 39 0-53 0 48 0 13 0-21 0-17 0 24 0 8 0-34 0 8 0 32 0 1 0-18 0 16 0-4 1-23 0 47 0-41 0 1 0-31 0 59 0-19 0-23 0 26 0-9 0-30 1 19 0 16 0-22 0 50 0-20 0 1 0-18 0 6 0-2 0 34 0-24 0-27 0 31 0-46 0-5 0 35 0-16 1 17 0-16 0-30 0 24 0 18 0 51 0-41 0 16 0-11 0 2 0-30 0 62 0 12 0-35 0-34 0 17 0 12 0-29 0-10 1 7 0 31 0-11 0-13 0 32 0-13 0 9 0-31 0 29 0-13 0-4 0 4 0 20 0-49 0 7 0 28 0-20 0 19 1 14 0-25 0-13 0 24 0 15 0-14 0-9 0-2 0 9 0-37 0 33 0 22 0-7 0-14 0 37 0-26 1 6 0-25 0 15 0-14 0-13 0 8 0-8 0 27 0-12 0-26 0 69 0-52 0 12 0-9 0-9 0 10 0 29 0-71 0 50 0 15 0-17 1 9 0-24 0 61 0-57 0 4 0-26 0 44 0 4 0-18 0 24 0 7 0-13 0 10 1-17 0 0 0 6 0-61 0 75 0-19 0-9 0 14 0-9 0 5 0-8 0 10 0-26 0 10 0-1 0 9 0-15 1 6 0-10 0-2 0 11 0-32 0 41 0 35 0-1 0-14 0 5 0-58 0 27 0-32 0 37 0 0 0-11 0 39 0 28 1-55 0-2 0-4 0 24 0-1 0 7 0-24 0 53 0-84 0 50 0-71 0 64 0 5 0-30 0-11 0 4 0 5 0 20 0-9 1-27 0 24 0 30 0-8 0-8 0-4 0 26 0-33 0 12 0-41 0 42 0-34 0 39 0-15 0 50 0-65 0 21 0-17 0 20 0 24 0 11 0 7 0-23 0-32 0 22 0-27 1 21 0-54 0 38 0 15 0-7 0-21 0-3 0 28 0 52 0-145 0 99 0 1 0-12 0 19 0-45 0-5 0 33 0 34 0-26 0-15 1 3 0-8 0-2 0 15 0-1 0-3 0 1 0 7 0 2 0 0 0-44 0 37 0-14 0-6 0 70 0-91 0 53 0 28 0-48 0 11 0 14 0-2 0-37 0 21 1 12 0-4 0-17 0-27 0 54 0-14 0 19 0-10 0-9 0 3 0-4 0-1 0-8 0 5 0 8 1-6 0 26 0-20 0-22 0 6 0 13 0-26 0 12 0-35 0 12 0 31 0 14 0 12 0-16 0-4 0-24 0 16 0-38 0 79 0-55 0 22 0-11 0 13 0-3 0 20 0-34 0 6 1-8 0 12 0 0 0-5 0-21 0-25 0 82 0-24 0-26 0 28 0-35 0 40 0-12 0-38 0 34 0-17 0 1 0-3 0 24 0 12 0-36 0 7 0 24 1-30 0 5 0 14 0 17 0-16 0-26 0 34 0 12 0-61 0 55 0-46 0 45 0 20 0-43 0 28 0-44 0 37 0-13 0-14 0 30 0-13 0-17 0 1 0 13 0 11 0-54 1 21 0 61 0-56 0 86 0-39 0-38 0 28 0-10 0-52 0 28 1-1 0-3 0 81 0-80 0 8 0 5 0 27 0-28 0-1 0-25 0 62 0-12 0-9 1-36 0 22 0-20 0 43 0-30 0 1 0 1 0 14 0-7 0 48 0-49 0 46 0-39 0-1 0-10 1-5 0-23 0 14 0 11 0-1 0 22 0-20 0-7 0 15 0 18 0-2 0-23 0 15 0 19 0-16 0 28 0-47 0 12 0-26 1 22 0 56 0-90 0 31 0 6 0 9 0 4 0-11 0-17 0 13 0 9 0 4 0-47 0 7 0 27 0 35 0-44 0-11 0 55 0-30 1 20 0-32 0 31 0-12 0 25 0-69 0 38 0-34 0 22 0-26 0 13 0 26 0 1 0 8 0 2 1-5 0-22 0 23 0-11 0-12 0 31 0-42 0 37 0-16 0-4 0 18 1 33 0-44 0-20 0 44 0 2 0-20 0 2 0-11 0-7 0-4 0 47 0-65 0 21 0 26 0 4 1-34 0 12 0-3 0 6 0-8 0-19 0 39 0-8 0 9 0 12 0-23 0 90 0-104 0 2 0-10 0 11 0-4 0-2 0 19 0-35 0 10 1 23 0-20 0 4 0 18 0 27 0-52 0-6 0 25 0 8 0-9 0 3 0-17 0 26 0-16 0-2 0 6 1-5 0-25 0 9 0 36 0-40 0 12 0 4 0 17 0-9 0 28 1-18 0-5 0-13 0 24 0 2 0 13 0-40 0 34 0-28 0 3 1 20 0-28 0 60 0-93 0 62 0-42 0 39 0-32 0 44 0-26 1 28 0-18 0-38 0-13 0 52 0-24 0-3 0 23 0-45 0 21 0 7 0 11 0-2 0 12 0-77 0 45 0 2 0 96 0-89 0-5 0 28 1-21 0 10 0 24 0-25 0-36 0 72 0-82 0 31 0 7 0-17 0 11 0 44 0-45 0 11 1 9 0-10 0-22 0 24 0 0 0-3 0 27 0-28 0-1 0 12 0-18 0 28 0-2 0-13 0-19 0 10 0-11 0 37 1-24 0-2 0 10 0-2 0 9 0-22 0 102 0-80 0 1 0-11 0-5 1 2 0-5 0 1 0-3 0 15 0 12 0 9 0 4 0-35 0 15 0-23 0 16 1-7 0-18 0 10 0 8 0-34 0 46 0-27 0 14 0-13 1 17 0 16 0-25 0-2 0-4 0-9 0 60 0-26 0 4 0-17 0 23 0-22 1 15 0-11 0-6 0-7 0 10 0 2 0 8 0 0 0 14 0-1 1-8 0-34 0 16 0 15 0 23 0-44 0-6 0 16 0 10 0-12 0 18 0-32 0 23 1-30 0 15 0-2 0 42 0 4 0-36 0 12 0-51 0 24 0 36 0-24 0 19 0-6 0 18 0-46 0 32 1-17 0 9 0 4 0 20 0-44 0 31 0-19 0-7 0 22 0 55 0-68 0 6 1 15 0-27 0-2 0 30 0 8 0-26 0 9 0-22 0-20 0 31 0-63 0 44 1 37 0-7 0-17 0 2 0 11 0 21 0-36 0 45 0-21 0-27 0 20 0-24 0 25 1 12 0-32 0 16 0-24 0 27 0 65 0-77 0 8 0 5 0 7 1 5 0-20 0 18 0-26 0 14 0-52 0 59 1-14 0 10 0-19 0-13 0-2 1 19 0-19 0 37 0-18 0 32 0-23 0 59 0-44 0-41 0 21 0-2 0-15 0 16 0 9 0-11 1-5 0 19 0-12 0 2 0 2 0 20 0-22 0 31 0-58 0-27 0 34 0 27 1 4 0-24 0 24 0-19 0-8 0 3 1-3 0 46 0-43 0 22 0-34 0 38 0-50 0 45 1-41 0 33 0 11 0-5 0-7 0-7 0-19 0 51 0-16 0-9 0-8 1 4 0-7 0 19 0-9 0 8 0 20 0-18 1-30 0-16 0 30 0 25 0-19 0-15 0 13 0 24 0-37 1 6 0 14 0-50 0 55 0-36 0 32 0-32 1 23 0 7 0 10 1-12 0-17 0 32 0-14 0 14 0-41 0 27 0 19 0-63 0 56 0-6 0-9 1-55 0 77 0-10 0-36 0 13 0 26 1-25 0 12 0 11 0-17 0-14 1 20 0-9 0 0 0 32 1-34 0-20 1 28 0 8 1 0 0-24 0 47 1-35 0-8 1 16 1-21 0 6 0 19 1 11 2-18 0-10 1 20 0-7 0 3 1 34 0-47 0 6 1 27 0-43 0 45 0-20 1-5 0-15 1 8 0 16 1-16 0 2 1-12 2 26 1 10 0-16 1-28 2 24 1-9 4 8 1 12 29-64 0 51 1-3 1 12 1-23 0 14 0-12 3 44 0-29 0-19 0 4 1-23 0 36 0 10 0-27 3 35 0 19 2-40 0-16 0 1 1-14 0 13 1-3 0 24 0-10 1 17 0-26 1 33 1-24 0 26 0-33 0 36 3-43 0 22 0-8 0 8 0-18 0 52 0-47 0 15 1-12 0 10 1-4 0-47 0 31 0-37 1 68 1-5 0-10 0-26 0 22 1-12 0 28 0-12 0 6 20-14 1 18 0-17 1-3 0 10 1-11 1 23 0 1 1-13 0 13 0 10 3-42 1 16 1 10 30 27 0-9 1-26 0 24 1-24 0 43 0-54 1-12 0 13 0-50 2 112 1-80 0 22 0-47 1 54 1 21 1-30 1 27 1-2 0 10 0-6 1-3 1-11 1 36 0-35 2-13 1-25 0 42 1 0 0-8 1-6 0 30 0-16 0-28 1 30 0-7 0 7 1 5 0-12 1 2 0-23 1 4 0 26 1 1 0-2 0-5 1 9 1-26 1 19 0-9 1 1 0-6 1 0 0-3 0 22 0-29 1 7 0 30 0-16 0 17 0 5 1 6 0-41 0-33 0 14 0 19 0-3 0-23 1 61 0-14 0-33 0 44 0-24 0 1 0 21 1-14 0-45 0 40 0-12 0 5 0 8 0-40 0 10 1 52 0 2 0-8 0 1 0-12 0-11 1 10 0-27 0 11 0 3 0 17 1-8 0-7 0-25 0 24 0-9 0 31 0-48 0 14 0 28 0-20 0 13 0 3 1-12 0-42 0 24 0 43 0-26 0 29 0-14 0-10 1-12 0 16 0 18 0-25 0 7 1-16 0 12 0 22 0-31 0 36 0-17 0-26 0 11 0 15 0-16 1 22 0-73 0 116 0-65 0 3 0 43 0-30 0-16 0 33 0-59 0 46 0-15 0-29 1 14 0 36 0-32 0 29 0-11 0 5 0 17 0-49 0 9 0 28 0-11 0-3 0-7 0 15 0-3 0-9 0-2 0 5 1 12 0 9 0-18 0-24 0 4 0 47 0-50 0 39 0-18 0 0 0 21 0-14 0 0 0-19 1 45 0 24 0-35 0-29 0-21 0 25 0-1 0-9 1 17 0-5 0 25 0-22 0 10 0 0 0-28 0 44 0-51 0 32 0 0 0-17 0-20 1-14 0 36 0-26 0 31 0-23 0 21 0-6 1 1 0-11 0 14 0 8 0-22 0 30 0-39 0 30 0-11 0 42 0-25 0-3 1-11 0-16 0 60 0-21 0-3 0-62 0 78 0-44 0 43 1-30 0 5 0-5 0 2 0 1 0-33 0 46 1-18 0 23 0-20 0 1 0-25 0-1 0 41 0-11 0-29 0-3 0 57 0-32 0 14 1 7 0 4 0-11 0-22 0 13 0-10 0-37 0 22 0 13 0-47 0 37 0 29 0-41 0 18 1-9 0 25 0-5 0 15 0-21 0 13 0-9 0-13 0 11 0 7 0-17 0 5 0 31 0-38 0 21 0 17 1-4 0-41 0 17 0-4 0 47 0-61 0 25 0 0 0-43 0 31 1-1 0-13 0 48 0-28 0 11 0-11 0-22 0-8 0 17 0 24 0-6 0 17 0-2 0-13 0 3 0 20 0-42 0 38 0-51 1 13 0 21 0-23 0 24 0-3 0-17 0 26 0-5 0 14 0-24 0 23 0-47 0 56 1-16 0 8 0-15 0-36 0-13 0 50 0 6 0-10 0-10 0 21 0 6 0-40 0 3 0 12 0 2 0 24 0-49 0 33 0 35 0-29 0-18 0 5 1 29 0-17 0-6 0-7 0 0 0-16 0 36 0-20 0-5 0 4 0-11 0 37 1-43 0 30 0 8 0-25 0 7 0 25 0-51 0 37 0-9 0-12 0 27 0-20 0-15 0 64 0-27 0-36 0 4 0 0 0 11 0 34 0-21 1-32 0 52 0-21 0 27 0-46 0 6 0 2 0-17 0 0 0 1 0 31 0-26 0 4 1 42 0-37 0-5 0 0 0-12 0 58 0-52 0 48 0 1 0-22 0-6 0-37 0 27 0 4 0 6 0 14 0-29 0 21 0 16 0-37 1 5 0 30 0-11 0-3 0-11 0-50 0 39 0 45 0-49 0 10 0 2 0 12 0 1 0 2 0-30 0 16 0 10 0-7 0-5 0 35 1-7 0-23 0 0 0-1 0-19 0 15 0 17 0-5 0 12 0-21 0-5 1-13 0 57 0-39 0 8 0-25 0 13 0 14 0-14 0 17 0-8 1-33 0 15 0 7 0 14 0 13 0-12 0-29 0 34 0-23 0-13 0 48 0-31 0 23 0-14 0-55 0 37 0 11 0-27 0 26 1 12 0 3 0-2 0 2 0 21 0-38 0-29 0 62 0-25 1-42 0 49 0 6 0-16 0 13 0-10 0-16 0 14 0-29 0 44 0 8 0-44 0-21 1 20 0 26 0-21 0 38 0-19 0-27 0 59 0-19 0 9 0 5 0-24 0-26 0 17 0-22 1-2 0 25 0-22 0-3 0 52 0-44 0 40 0-32 0 4 0-26 0 64 0-40 0-8 0 18 1-21 0 42 0-35 0 18 0-8 0-13 0 30 0-4 0 14 0-6 0-24 1-23 0-1 0 82 0-41 0 5 0-25 0 28 0-25 0 12 0-34 1 53 0-24 0-16 0 85 0-82 0 24 0-17 0-13 0 25 0 11 0-5 0-33 0 56 0-26 0 9 0-16 0 6 1-10 0-10 0-33 0 50 0 15 0-21 0 8 0-37 0 34 0-19 0 8 0 40 0-64 0 51 0-30 0 33 0-11 0-28 1 26 0-20 0 8 0-12 0 46 0-31 0-12 0 3 0-41 0 64 0-64 0 59 0 12 0 4 0-62 0 21 1 42 0-39 0-9 0 24 0-11 0-5 0 12 0 17 0-19 0-15 0 10 0 19 0-16 0-5 0 6 0-25 1 62 0-45 0 4 0 28 0-22 0 3 0-3 0 4 0 4 0-28 0 23 0-18 0 22 0 7 0-4 0-26 1 17 0 28 0-62 0 28 0 31 0-32 0 4 0 9 0-47 0 21 0 45 1 5 0 44 0-77 0 19 0-30 0 25 0 10 0 30 0-61 0 3 0 4 0-1 0 8 0-5 0 24 0-25 0 10 0 30 0-48 0-20 1 34 0-10 0 13 0-42 0 48 0-17 0-16 0 40 0-29 0 38 0-3 1-32 0-22 0 29 0-11 0-4 0 11 0 5 0-5 0-12 0 44 0-15 0-4 0-29 0 39 0-9 0-1 0-18 0-3 0 10 0 20 1-30 0 20 0-13 0-4 0 0 0 0 0 4 0 15 1 21 0-35 0-7 0 8 0-34 0 40 0-25 0 26 0 10 0-32 0 46 0-10 0-6 0-28 1 34 0-10 0 12 0 8 0-26 0-11 0 11 0 8 0-8 0-22 0-7 0 94 0-75 1 23 0-6 0-2 0-15 0-8 0-6 0 7 0 28 0-9 0 6 0 17 0-26 0-35 0 37 0 29 0-54 0 30 1-46 0 60 0-4 0-35 0 32 0-25 0 15 0-18 0-9 0 18 0-20 0 26 0 5 0-12 0 0 1 7 0 8 0-7 0 19 0-22 0 3 0 17 0-38 0-7 0 21 0 5 0-27 1 56 0-27 0 49 0-65 0 33 0-17 0-25 0 3 0 15 0-2 0 2 0 7 0-53 0 9 0 33 0 1 0-22 1 24 0-22 0 9 0-16 0 20 0 22 0 1 0 2 0-4 0-36 0 10 0 33 0-31 0-13 1 55 0-36 0-8 0 36 0-40 0 12 0-7 0 18 0 16 0 7 0-21 0-3 0 23 0-45 0 34 1 4 0-11 0 7 0 2 0-23 0-2 0 5 0 3 0 8 0-38 0 3 0 48 1 3 0-5 0-19 0 4 0-38 0 27 0 21 0-34 0 23 0 17 0-11 0-2 0-9 0 5 1 3 0-15 0 38 0-29 0 13 0-5 0-27 0 55 0-1 0-22 0 32 0-44 0-9 0 35 0-21 1-11 0 42 0-31 0-36 0 59 0-38 0 28 0-10 0 7 0-21 1 24 0-25 0 7 0-3 0 7 0 33 0-12 0-15 0 3 0-13 0 16 0-18 0-9 1-6 0 21 0 12 0-19 0-7 0 10 0 12 0-1 0-12 1 26 0-17 0-27 0 41 0-17 0-15 0 5 0 53 0-25 0 3 0-46 0 45 0-41 0 26 0 3 0-30 1 64 0-22 0-15 0-19 0 20 0-20 0 12 0 0 0-23 0 59 0-46 0-12 0 54 0-35 0 6 0 30 0-31 0 40 1-32 0-1 0-26 0-11 0 32 0 0 0 12 0-23 0 3 0 26 0-30 0 39 1-5 0 13 0-21 0-19 0 44 0-44 0 13 0 27 0-49 0 13 0 2 0 14 0-4 0-12 0-4 0 30 0-45 0-20 0 2 0 9 0 30 0 15 0-16 0 7 0-5 0 23 0-23 1 7 0-29 0 32 0-4 0-8 0 18 0-24 0 17 0-9 0-27 0 30 1 4 0 5 0-2 0 1 0-26 0 14 0 0 0-1 0-10 0 21 0-28 0 16 0 28 0-28 0-35 0 33 1-9 0 27 0-35 0 19 0-7 0 29 0-31 0 28 0-26 0 36 0-43 0-3 0 12 0 5 0-11 0 28 0-40 1 5 0 34 0-3 0-22 0-10 0 8 0 13 0 1 0-19 0 14 0 19 0-8 0 11 0-8 0-16 0-17 1-9 0 18 0 3 0-23 0 37 0 9 0-4 0 7 0-52 0 30 0-21 0-2 0 56 0-34 0-15 0-8 0 57 0 32 1-60 0-27 0 19 0-11 0-8 0 32 0-28 0 0 0 44 0-3 0-30 1 31 0-43 0-15 0-12 0 49 0 7 0-19 0-28 0 71 0-9 0-16 0 13 0-10 0-15 0-1 0-21 0 60 0-30 1 18 0-14 0-5 0-3 0 8 0 37 0-51 0 51 0-55 0-24 0 49 0-18 0-2 0 25 0 17 0-31 0-32 0-7 0 42 1 18 0-25 0 17 0 11 0-47 0-3 0 13 0 10 0 0 0 18 0-41 0 17 0 30 0-28 0-10 0-20 0 8 1 58 0-30 0-16 0 5 0-5 0 57 0-39 0-30 0 24 0 2 0 0 0 16 0-6 1 16 0-30 0-16 0 21 0-11 0 1 0 9 0-2 0 13 0 2 0-52 0 32 0-2 0 5 0-24 0 51 1-10 0 6 0-41 0 27 0-11 0 14 0-3 0-5 0-15 0 10 0-8 0-9 0 40 0-17 0 42 0-42 0 14 0-15 1-23 0 10 0-15 0 17 0 28 0-25 0 5 0-14 0-7 0-2 0 15 1-28 0 59 0-24 0 9 0-13 0 21 0-1 0-21 0-19 0 16 0 6 0-6 0 13 0 0 0-13 0 18 0 12 0-31 1 16 0-5 0-5 0 23 0-23 0 9 0 10 0-27 0 14 0 8 0-40 0 42 0 1 0 26 0 25 0-28 1-46 0 10 0 13 0-43 0 31 0-24 0 15 0 30 0-22 0 10 0-9 0-17 0 48 0-7 0-21 1 26 0-39 0 5 0-2 0 0 0 1 0 11 0 7 0-25 0 1 0 32 0-3 0-49 1 56 0-40 0 45 0-41 0 21 0-57 0 51 0 28 0-49 0 48 0-31 0-18 0 13 0 4 0 4 0-9 1 32 0-27 0 46 0-47 0-5 0 31 0-38 0 19 0-34 0 27 0-15 0-1 0 4 0-11 1 13 0 5 0-25 0 29 0 0 0 5 0 13 0-26 0 21 0-9 0-2 0-13 0-8 0 1 0 31 1-29 0 35 0-23 0-4 0 34 0-28 0-16 0 71 0-34 0-23 0-17 0 7 0 26 0-3 0-19 0 10 0-14 1 10 0 18 0-17 0 16 0-20 0-12 0 18 0-1 0 16 0-21 0 13 0-11 1-48 0 57 0-26 0 1 0 15 0-2 0 19 0-7 0 33 0-22 0-14 0-14 0 36 0-6 0 8 0-26 0 42 0-47 1 15 0-25 0 21 0 22 0-36 0 7 0 21 0-78 0 89 0-38 0 27 0-10 0 18 1-27 0-20 0 51 0-39 0 24 0-69 0 44 0 17 0 12 0-36 0 15 0 43 0-18 1-7 0 2 0 3 0 13 0-28 0-11 0 7 0 2 0-8 0 92 0-42 1-43 0-1 0 10 0-6 0 16 0-20 0-10 0 3 0 10 0 11 0-47 0 34 0-20 0 10 0 38 0-38 0 14 0-12 1 11 0-2 0 9 0-30 0 18 0 19 0 10 0 0 0-30 0-12 0 45 1-21 0-27 0 14 0 1 0 30 0-25 0-8 0 20 0-27 0 14 0 4 0 21 0-11 0-8 0 61 0-40 0-32 1 19 0-10 0-12 0 12 0 8 0 20 0-25 0-28 0 7 0 25 1-16 0-1 0-6 0 12 0 6 0 0 0-30 0 50 0-57 0 54 0-21 0-37 0 8 0 18 0-11 0 25 0-25 0 61 1-21 0 0 0 21 0-73 0 18 0 35 0-8 0-16 0-19 0 19 0 37 0-17 0 1 1-20 0-23 0 30 0-9 0-25 0 39 0-38 0 38 0 13 1-19 0-43 0 20 0 41 0 2 0-26 0 22 1-21 0 0 0-20 0 31 0 11 0-12 0 5 0-27 0 14 0 9 0-16 1-32 0 22 0 5 0 25 0-8 0-5 0-2 1 29 0-22 0 7 0-23 0 8 0-2 0-26 0 14 0 8 0-3 1 25 0-27 0 15 0 1 0-20 0 33 0-2 1-33 0 38 0-4 1-30 0 33 0-8 0-2 1 0 0 2 0-17 0 8 0 6 1-1 0 18 0-24 0 37 1-68 0 43 0-8 0 8 0 5 0-33 0 22 0-7 1 17 0 17 0-27 0 2 1 9 0-6 0-20 1-19 0-1 0 16 1 17 0-9 0-8 1 14 0-29 1 35 0-15 0 4 1 15 0 9 1-12 0 29 0 9 0-56 1 22 1-28 0 29 1-37 0 18 0-7 1-58 0 68 1 19 0-57 2 9 0 26 1-17 1 42 0-30 1-13 1 16 0 12 0 14 0-14 1-19 1 29 0-2 0-12 2-24 1 7 0 16 1-7 1-1 2 27 1-1 1 9 0-7 0-11 1 19 0-15 0-31 1 36 0-3 0-20 1 2 0-2 1 23 1-13 0 7 1-10 0 27 0-28 2 15 1-12 0-15 1 18 3 1 3 4 1-9 1 27 2-10 1-14 0-31 1 33 0 2 3 14 1-15 1 3 24-25 0 23 1-4 1-11 1 12 1 3 0-12 1 3 2 9 3-1 0-1 1-11 0 2 1-19 0 23 1 12 2-29 1 3 0 3 0 23 0-4 1-7 13-6 0 3 0-4 0 17 1-27 0 0 1 18 2 7 25-33 4-1 0 27 1 25 1-33 1 8 2 11 0-40 1 27 0-1 0 7 3-11 2-7 0 22 3-17 0-28 1 18 0 30 0-14 1 23 0 15 0-43 1 16 0 18 0-54 0 25 1-1 0 6 0-2 0-30 0 36 1-35 0 27 0 27 0-12 1-30 0 25 1-46 0 22 0-2 0 9 0-3 0 20 1 10 0-11 0-72 0 39 0-2 0 46 1-15 0-37 0 37 0 1 0-3 0 51 0-80 0 20 0 12 1-39 0 48 0-48 0 43 0-21 0-15 0 45 1-44 0 31 0-78 0 75 0-24 0 36 0-13 0 11 1-5 0-42 0 41 0-16 0-4 0 32 1-11 0 11 0-37 0 20 0 11 0-16 1-17 0 11 0 14 0 10 0-23 0 4 0 10 0-11 0 15 0-1 1 1 0-33 0 19 0-10 0 37 0-23 0-14 0 21 1-1 0-16 0 22 0-8 0-36 0 24 0 2 0 44 0-33 0-9 0-4 0 14 0 7 1-8 0-22 0 27 0 11 0-11 0-39 0 32 0-14 1 6 0 3 0-20 0 14 0-18 0 12 0 21 0 10 0 5 0-4 0-16 1-18 0 19 0 20 0-70 0 36 0 18 0 6 0-2 0-28 0 34 1-25 0 1 0-6 0-16 0 34 0 1 0 13 0-23 0-11 0-21 1 17 0-10 0 85 0-34 0-42 0-10 0 29 0-35 0 39 0 26 0-44 0 22 1-18 0-11 0 28 0-20 0 12 0-18 0 8 0 11 0 24 0-23 1-11 0 6 0 24 0-34 0 43 0-45 0 11 0 6 1-6 0-14 0 26 0 2 0 2 0 3 1-1 0 6 0-14 0-9 0-1 0 3 0-18 0 27 0-7 1-14 0 44 0-30 0-16 0 22 0-7 0-14 0 37 0-30 0 49 0-39 0 21 0-20 0-12 0 46 0-47 0 11 0-30 0 2 0 24 1 10 0 1 0-17 0 2 0-8 0 0 0 35 0-18 0-7 0 0 0 6 0 9 0-27 0-2 0 12 0 2 0-9 1 27 0 14 0-19 0-43 0 33 0 54 0-64 0-5 0 12 0 43 0-58 0 3 0 18 0-33 0 38 1 3 0-18 0 27 0-30 0 46 0-39 0-6 0 21 0 29 1-92 0 62 0-23 0 32 0-31 0-4 0 16 0 8 0-7 0-17 1 3 0 8 0-3 0 25 0 2 0-27 0-18 0 31 0 11 0-22 0 11 0 17 0-26 0 17 0-23 1 2 0-13 0 1 0 8 0 26 0-14 0 3 0-33 0 50 1-39 0-7 0 24 0 37 0 7 0-72 0 27 0-9 0 28 0-29 1-9 0 49 0-41 0 6 0 13 0-10 0 3 0-7 0 0 0 21 0 17 0-53 0 31 0-21 0 36 0-18 0-14 0-28 0 15 1 39 0-26 0-27 0 22 0 5 0 33 0-40 0 19 0 6 0-8 0-34 0 45 0 4 0-9 0 18 0 14 0-61 0 22 0-12 1-1 0 10 0 1 0 12 0-20 0 44 0-31 0 4 0-20 0 10 0 28 0-21 0 12 0-10 0 4 0 17 0-18 0-5 0-4 0 13 1-11 0-20 0 11 0 23 0-34 0 25 0 28 1-23 0-2 0-24 0-18 0 17 0 34 0 36 0-53 0 5 0 4 0 7 0-9 0 0 0-67 0 103 1-34 0-4 0 28 0-42 0 2 0 14 0-2 0-7 0-39 1 6 0 38 0-31 0 47 0-10 0-24 0 21 0-13 0 20 0-19 0-15 1 22 0 6 0-42 0 40 0-31 0 44 1-36 0 10 0-4 0 3 0 2 0 20 0-3 0 27 0-65 0-12 0 6 0 49 0-27 0 26 0-9 0-24 0 17 0-18 1 31 0-32 0 32 0-16 0-13 0 13 0-6 0 26 0-42 0 7 0 20 0 1 0-8 0-6 1 5 0 34 0-21 0-32 0 64 0-61 0 46 0-12 0-14 0-13 0 29 0 10 0-11 0-16 0-8 0 14 0-3 0 24 0-30 0-4 0-3 1 25 0-15 0 22 0-25 0 9 0 21 0-31 0 16 0 23 0-33 0-6 1 1 0 21 0 31 0-28 0-31 0 19 0 15 0 19 0-14 0-39 0 45 0-45 0 17 0-18 0 6 0 27 0-34 0-23 0 54 1-9 0-1 0-40 0 50 0-39 0 5 0-19 0 48 0 5 0-25 0 19 0 8 0 18 0-68 0 47 0-22 0-1 0-1 0 4 0-36 0 62 0-28 0 15 1-34 0 64 0-51 0 16 0 5 0-23 0-19 0 16 0 5 0 6 0-43 0 25 0 39 0-5 0-22 0 19 0 9 0 13 0-30 0 30 1-11 0-58 0 28 0-23 0 34 0-40 0 43 0-10 0 21 0-32 0 49 0-82 0 65 0-11 0 2 0 16 0-25 0 19 1 37 0-45 0 6 0-6 0-14 0-17 0 31 0-37 0 3 0 46 0-28 0 9 0-3 0-21 0 45 0-48 0 33 0-2 0-5 0 27 0-15 0-40 0 34 0-27 0 78 0-71 0 5 0 29 1-28 0 7 0-1 0 31 0-28 0-14 0 25 0 7 0-18 0 8 0 42 0-28 0-51 0 12 0 19 0 2 0 12 0 10 0-7 0 1 0-24 0-2 1 10 0-2 0 20 0-53 0 30 0-29 0 46 0-30 0 43 0-3 0-3 0-47 0 6 0 42 0-12 0 18 0-28 1 3 0 30 0 3 0-41 0 19 0 13 0-19 0-14 0 1 0 19 0-20 0-9 0 29 1 25 0-49 0-5 0 46 0-22 0 69 0-84 0 7 0 49 0-46 0 16 1-16 0 26 0-13 0-18 0-12 0-11 0 57 0-23 0 27 0-46 0-3 0-5 0 23 0-13 0 19 0-3 0 23 0-36 0-16 0 46 0 15 0-37 1 4 0-1 0 4 0 19 0-24 0 15 0-21 0-1 0 12 0 14 0-31 0-41 0 52 0-22 0 9 0 16 0-35 0 32 0-12 0-10 0 22 0-7 0 31 0-32 0 23 1 13 0-26 0-34 0 31 0 2 0-19 0 43 0 2 0-4 0-72 0-3 0 46 0-22 0 25 0-9 0 58 0-49 0-38 0 17 0 37 0-55 0 28 0-3 0 25 0-12 0-9 0-4 0 4 0 4 1-5 0 38 0-18 0-30 0 27 0 8 0-18 0 20 0-1 0 5 0-7 0-7 0-23 0 9 0-11 0 13 0 3 0 4 0 3 1 5 0-36 0 3 0 24 0-8 0 45 0-47 0-47 0 50 0 19 0-18 0 10 0 18 0-24 0-23 0 77 0-47 0-2 0 5 1-32 0 28 0-13 0 9 0 13 0 3 0-68 0 90 0 4 0-12 0-9 0-51 0 29 0 13 0-16 0-17 0 5 0 1 0 25 0 13 0-31 0 19 0 8 1 7 0-22 0-23 0 2 0 6 0 35 0-1 0-6 0-15 0 6 0 7 0-22 0 12 0-18 0 5 0 21 0 23 0-22 0-8 0 26 0-28 0-35 1 60 0-49 0 52 0-36 0 25 0-32 0 30 0-33 0 13 0-5 0 39 0 5 0-16 0-26 0 0 0 2 1-7 0 24 0-54 0 49 0 13 0-17 0 10 0-20 0-57 0 43 0 12 0-27 0-22 0 36 0 35 0-9 0-12 0-4 0 72 0-40 1-41 0 23 0-20 0 28 0-20 0 5 0 85 0-73 0-13 0-5 0 12 0-22 0 27 0 25 0-32 0-49 0 30 0 6 0-16 0 39 0-38 1 21 0 35 0-15 0 0 0-10 0 1 0-40 0 7 0 19 0 13 0-39 0 71 0 13 0-43 0-1 0-22 0 23 0-4 0-13 0 23 0-22 0 47 0-62 0 47 0-57 1 79 0 15 0-72 0 31 0-14 0-13 0 35 0-32 0 33 0-32 0 13 0 0 0-11 0-5 0 4 0 22 0-39 0 18 0-18 0 38 0-1 0-21 0-14 0 12 0 6 0-22 0 31 0-21 0-10 0 8 0 5 1-48 0 59 0-11 0 24 0-16 0-34 0 43 0 6 0-31 0-12 0 39 0-27 0-3 0 19 0 10 0 1 1-23 0 7 0 25 0-27 0-5 0 9 0 105 0-108 0-5 0-27 0 55 0-10 0-31 0 82 1-77 0 38 0-35 0 9 0 0 0 9 0-4 0-17 0 18 0 8 0 4 0-8 0-39 0 41 0 28 0-45 0 1 0 13 0-54 1 36 0 14 0 0 0 11 0-25 0 15 0 17 0 6 0-43 0 40 0-43 0 1 0 2 0 25 0 32 0-39 0 10 0 28 0 14 0-37 1-23 0 42 0-36 0-2 0 8 0-4 0 23 0-19 0 0 0 17 0-16 0-15 0 15 0 20 0-12 0-12 0 1 0-23 0-21 0 58 0-28 0 34 0-33 0 20 0-4 0-12 1 42 0-4 0-35 0-14 0 38 0-38 0 11 0-23 0 53 0 47 0-73 0-18 0 25 0 2 0-8 0-28 0 39 0-53 0 48 0 13 0-21 0-17 0 24 0 8 0-34 0 8 0 32 1 1 0-18 0 16 0-4 0-23 0 47 0-41 1 1 0-31 0 59 0-19 0-23 0 26 0-9 0-30 0 19 0 16 0-22 0 50 0-20 0 1 0-18 0 6 0-2 0 34 0-24 0-27 0 31 1-46 0-5 0 35 0-16 0 17 0-16 0-30 0 24 0 18 0 51 0-41 0 16 0-11 0 2 0-30 1 62 0 12 0-35 0-34 0 17 0 12 0-29 0-10 0 7 0 31 0-11 0-13 0 32 0-13 1 9 0-31 0 29 0-13 0-4 0 4 0 20 0-49 0 7 0 28 0-20 0 19 0 14 0-25 0-13 0 24 0 15 0-14 0-9 1-2 0 9 0-37 0 33 0 22 0-7 0-14 0 37 0-26 0 6 0-25 0 15 0-14 0-13 0 8 1-8 0 27 0-12 0-26 0 69 0-52 0 12 0-9 0-9 0 10 0 29 0-71 0 50 0 15 0-17 0 9 0-24 0 61 0-57 0 4 1-26 0 44 0 4 0-18 0 24 0 7 0-13 0 10 0-17 0 0 0 6 0-61 0 75 0-19 1-9 0 14 0-9 0 5 0-8 0 10 0-26 0 10 0-1 0 9 0-15 0 6 0-10 0-2 0 11 0-32 0 41 0 35 0-1 1-14 0 5 0-58 0 27 0-32 0 37 0 0 0-11 0 39 0 28 0-55 0-2 0-4 0 24 0-1 0 7 0-24 1 53 0-84 0 50 0-71 0 64 0 5 0-30 0-11 0 4 0 5 0 20 0-9 0-27 0 24 0 30 0-8 0-8 0-4 0 26 0-33 0 12 0-41 0 42 0-34 0 39 0-15 0 50 1-65 0 21 0-17 0 20 0 24 0 11 0 7 0-23 0-32 0 22 0-27 0 21 0-54 0 38 0 15 0-7 0-21 0-3 0 28 1 52 0-145 0 99 0 1 0-12 0 19 0-45 0-5 0 33 0 34 0-26 0-15 0 3 0-8 0-2 0 15 0-1 0-3 0 1 0 7 0 2 0 0 0-44 0 37 0-14 1-6 0 70 0-91 0 53 0 28 0-48 0 11 0 14 0-2 0-37 0 21 0 12 0-4 0-17 0-27 0 54 0-14 0 19 0-10 0-9 1 3 0-4 0-1 0-8 0 5 0 8 0-6 0 26 0-20 0-22 0 6 0 13 0-26 0 12 0-35 0 12 0 31 0 14 0 12 0-16 1-4 0-24 0 16 0-38 0 79 0-55 0 22 0-11 0 13 0-3 0 20 0-34 0 6 0-8 0 12 0 0 0-5 0-21 0-25 0 82 0-24 0-26 0 28 0-35 0 40 1-12 0-38 0 34 0-17 0 1 0-3 0 24 0 12 0-36 0 7 0 24 0-30 0 5 0 14 0 17 0-16 0-26 0 34 0 12 0-61 0 55 0-46 0 45 0 20 0-43 0 28 0-44 0 37 0-13 1-14 0 30 0-13 0-17 0 1 0 13 0 11 0-54 0 21 0 61 0-56 0 86 0-39 0-38 0 28 0-10 1-52 0 28 0-1 0-3 0 81 0-80 0 8 0 5 0 27 0-28 1-1 0-25 0 62 0-12 0-9 0-36 0 22 0-20 0 43 0-30 0 1 1 1 0 14 0-7 0 48 0-49 0 46 0-39 0-1 0-10 0-5 0-23 0 14 0 11 0-1 0 22 0-20 0-7 0 15 0 18 0-2 1-23 0 15 0 19 0-16 0 28 0-47 0 12 0-26 0 22 0 56 0-90 0 31 0 6 0 9 0 4 0-11 0-17 0 13 0 9 0 4 1-47 0 7 0 27 0 35 0-44 0-11 0 55 0-30 0 20 0-32 0 31 0-12 0 25 0-69 0 38 1-34 0 22 0-26 0 13 0 26 0 1 0 8 0 2 0-5 0-22 0 23 1-11 0-12 0 31 0-42 0 37 0-16 0-4 0 18 0 33 0-44 0-20 0 44 0 2 0-20 0 2 1-11 0-7 0-4 0 47 0-65 0 21 0 26 0 4 0-34 0 12 0-3 0 6 0-8 0-19 0 39 0-8 0 9 0 12 0-23 0 90 1-104 0 2 0-10 0 11 0-4 0-2 0 19 0-35 0 10 0 23 0-20 0 4 0 18 0 27 0-52 0-6 0 25 1 8 0-9 0 3 0-17 0 26 0-16 0-2 0 6 0-5 0-25 0 9 0 36 0-40 0 12 1 4 0 17 0-9 0 28 0-18 0-5 0-13 0 24 0 2 1 13 0-40 0 34 0-28 0 3 0 20 0-28 0 60 1-93 0 62 0-42 0 39 0-32 0 44 0-26 0 28 0-18 0-38 0-13 0 52 0-24 0-3 0 23 0-45 1 21 0 7 0 11 0-2 0 12 0-77 0 45 0 2 0 96 0-89 0-5 0 28 0-21 0 10 0 24 0-25 0-36 0 72 0-82 0 31 1 7 0-17 0 11 0 44 0-45 0 11 0 9 0-10 0-22 0 24 0 0 0-3 0 27 1-28 0-1 0 12 0-18 0 28 0-2 0-13 0-19 0 10 0-11 0 37 0-24 0-2 0 10 0-2 0 9 0-22 1 102 0-80 0 1 0-11 0-5 0 2 0-5 0 1 0-3 0 15 0 12 0 9 0 4 1-35 0 15 0-23 0 16 0-7 0-18 0 10 0 8 1-34 0 46 0-27 0 14 0-13 0 17 0 16 0-25 0-2 0-4 0-9 1 60 0-26 0 4 0-17 0 23 0-22 0 15 0-11 0-6 0-7 0 10 0 2 0 8 1 0 0 14 0-1 0-8 0-34 0 16 0 15 0 23 0-44 1-6 0 16 0 10 0-12 0 18 0-32 0 23 0-30 0 15 0-2 0 42 0 4 0-36 0 12 1-51 0 24 0 36 0-24 0 19 0-6 0 18 0-46 0 32 0-17 0 9 0 4 0 20 0-44 1 31 0-19 0-7 0 22 0 55 0-68 0 6 0 15 0-27 0-2 0 30 1 8 0-26 0 9 0-22 0-20 0 31 0-63 0 44 0 37 0-7 0-17 0 2 0 11 0 21 1-36 0 45 0-21 0-27 0 20 0-24 0 25 0 12 0-32 0 16 0-24 0 27 0 65 0-77 1 8 0 5 0 7 0 5 0-20 0 18 0-26 1 14 0-52 0 59 0-14 0 10 1-19 0-13 0-2 0 19 0-19 0 37 0-18 0 32 0-23 0 59 0-44 0-41 0 21 1-2 0-15 0 16 0 9 0-11 0-5 0 19 0-12 0 2 0 2 0 20 0-22 1 31 0-58 0-27 0 34 0 27 0 4 0-24 0 24 0-19 0-8 1 3 0-3 0 46 1-43 0 22 0-34 0 38 0-50 0 45 0-41 0 33 0 11 0-5 0-7 0-7 0-19 1 51 0-16 0-9 0-8 0 4 0-7 1 19 0-9 0 8 0 20 0-18 0-30 0-16 0 30 0 25 0-19 1-15 0 13 0 24 0-37 0 6 0 14 0-50 0 55 0-36 1 32 0-32 0 23 1 7 0 10 0-12 0-17 0 32 0-14 0 14 0-41 1 27 0 19 0-63 0 56 0-6 0-9 0-55 1 77 0-10 0-36 0 13 0 26 0-25 0 12 0 11 0-17 1-14 0 20 0-9 0 0 1 32 0-34 0-20 1 28 1 8 0 0 1-24 0 47 0-35 1-8 0 16 1-21 0 6 0 19 2 11 1-18 1-10 0 20 1-7 0 3 0 34 0-47 1 6 0 27 0-43 0 45 0-20 1-5 1-15 0 8 1 16 0-16 1 2 0-12 2 26 2 10 0-16 0-28 2 24 1-9 4 8 1 12 29-64" fill="none" marker-start="url(#p)" marker-mid="url(#p)" marker-end="url(#p)"/></g><path d="M63.75 475.32H463.75" stroke="#fff" stroke-width="1.8" stroke-dasharray="1.9 1.9" stroke-dashoffset="0.3"/><path d="M63.75 475.32H463.75" stroke="#8a8a8a" stroke-width="1" stroke-dasharray="1.3 2.5"/></g><g fill="none" stroke="#2e2e2e" stroke-width="1.4"><rect x="63.7" y="0.5" width="400.05" height="330.0"/><rect x="63.7" y="340.8" width="400.05" height="216.40"/><path d="M63.70 0.50v6.5M63.70 330.50v-6.5M63.70 340.80v6.5M63.70 557.20v-6.5M77.99 0.50v3.5M77.99 330.50v-3.5M77.99 340.80v3.5M77.99 557.20v-3.5M92.28 0.50v3.5M92.28 330.50v-3.5M92.28 340.80v3.5M92.28 557.20v-3.5M106.56 0.50v3.5M106.56 330.50v-3.5M106.56 340.80v3.5M106.56 557.20v-3.5M120.85 0.50v6.5M120.85 330.50v-6.5M120.85 340.80v6.5M120.85 557.20v-6.5M135.14 0.50v3.5M135.14 330.50v-3.5M135.14 340.80v3.5M135.14 557.20v-3.5M149.43 0.50v3.5M149.43 330.50v-3.5M149.43 340.80v3.5M149.43 557.20v-3.5M163.71 0.50v3.5M163.71 330.50v-3.5M163.71 340.80v3.5M163.71 557.20v-3.5M178.00 0.50v6.5M178.00 330.50v-6.5M178.00 340.80v6.5M178.00 557.20v-6.5M192.29 0.50v3.5M192.29 330.50v-3.5M192.29 340.80v3.5M192.29 557.20v-3.5M206.57 0.50v3.5M206.57 330.50v-3.5M206.57 340.80v3.5M206.57 557.20v-3.5M220.86 0.50v3.5M220.86 330.50v-3.5M220.86 340.80v3.5M220.86 557.20v-3.5M235.15 0.50v6.5M235.15 330.50v-6.5M235.15 340.80v6.5M235.15 557.20v-6.5M249.44 0.50v3.5M249.44 330.50v-3.5M249.44 340.80v3.5M249.44 557.20v-3.5M263.72 0.50v3.5M263.72 330.50v-3.5M263.72 340.80v3.5M263.72 557.20v-3.5M278.01 0.50v3.5M278.01 330.50v-3.5M278.01 340.80v3.5M278.01 557.20v-3.5M292.30 0.50v6.5M292.30 330.50v-6.5M292.30 340.80v6.5M292.30 557.20v-6.5M306.59 0.50v3.5M306.59 330.50v-3.5M306.59 340.80v3.5M306.59 557.20v-3.5M320.87 0.50v3.5M320.87 330.50v-3.5M320.87 340.80v3.5M320.87 557.20v-3.5M335.16 0.50v3.5M335.16 330.50v-3.5M335.16 340.80v3.5M335.16 557.20v-3.5M349.45 0.50v6.5M349.45 330.50v-6.5M349.45 340.80v6.5M349.45 557.20v-6.5M363.74 0.50v3.5M363.74 330.50v-3.5M363.74 340.80v3.5M363.74 557.20v-3.5M378.03 0.50v3.5M378.03 330.50v-3.5M378.03 340.80v3.5M378.03 557.20v-3.5M392.31 0.50v3.5M392.31 330.50v-3.5M392.31 340.80v3.5M392.31 557.20v-3.5M406.60 0.50v6.5M406.60 330.50v-6.5M406.60 340.80v6.5M406.60 557.20v-6.5M420.89 0.50v3.5M420.89 330.50v-3.5M420.89 340.80v3.5M420.89 557.20v-3.5M435.18 0.50v3.5M435.18 330.50v-3.5M435.18 340.80v3.5M435.18 557.20v-3.5M449.46 0.50v3.5M449.46 330.50v-3.5M449.46 340.80v3.5M449.46 557.20v-3.5M463.75 0.50v6.5M463.75 330.50v-6.5M463.75 340.80v6.5M463.75 557.20v-6.5M63.70 0.50h3.5M463.75 0.50h-3.5M63.70 11.50h3.5M463.75 11.50h-3.5M63.70 22.50h6.5M463.75 22.50h-6.5M63.70 33.50h3.5M463.75 33.50h-3.5M63.70 44.50h3.5M463.75 44.50h-3.5M63.70 55.50h3.5M463.75 55.50h-3.5M63.70 66.50h6.5M463.75 66.50h-6.5M63.70 77.50h3.5M463.75 77.50h-3.5M63.70 88.50h3.5M463.75 88.50h-3.5M63.70 99.50h3.5M463.75 99.50h-3.5M63.70 110.50h6.5M463.75 110.50h-6.5M63.70 121.50h3.5M463.75 121.50h-3.5M63.70 132.50h3.5M463.75 132.50h-3.5M63.70 143.50h3.5M463.75 143.50h-3.5M63.70 154.50h6.5M463.75 154.50h-6.5M63.70 165.50h3.5M463.75 165.50h-3.5M63.70 176.50h3.5M463.75 176.50h-3.5M63.70 187.50h3.5M463.75 187.50h-3.5M63.70 198.50h6.5M463.75 198.50h-6.5M63.70 209.50h3.5M463.75 209.50h-3.5M63.70 220.50h3.5M463.75 220.50h-3.5M63.70 231.50h3.5M463.75 231.50h-3.5M63.70 242.50h6.5M463.75 242.50h-6.5M63.70 253.50h3.5M463.75 253.50h-3.5M63.70 264.50h3.5M463.75 264.50h-3.5M63.70 275.50h3.5M463.75 275.50h-3.5M63.70 286.50h6.5M463.75 286.50h-6.5M63.70 297.50h3.5M463.75 297.50h-3.5M63.70 308.50h3.5M463.75 308.50h-3.5M63.70 319.50h3.5M463.75 319.50h-3.5M63.70 330.50h6.5M463.75 330.50h-6.5M63.70 340.80h3.5M463.75 340.80h-3.5M63.70 346.65h6.5M463.75 346.65h-6.5M63.70 352.50h3.5M463.75 352.50h-3.5M63.70 358.35h3.5M463.75 358.35h-3.5M63.70 364.19h3.5M463.75 364.19h-3.5M63.70 370.04h3.5M463.75 370.04h-3.5M63.70 375.89h6.5M463.75 375.89h-6.5M63.70 381.74h3.5M463.75 381.74h-3.5M63.70 387.59h3.5M463.75 387.59h-3.5M63.70 393.44h3.5M463.75 393.44h-3.5M63.70 399.29h3.5M463.75 399.29h-3.5M63.70 405.14h6.5M463.75 405.14h-6.5M63.70 410.98h3.5M463.75 410.98h-3.5M63.70 416.83h3.5M463.75 416.83h-3.5M63.70 422.68h3.5M463.75 422.68h-3.5M63.70 428.53h3.5M463.75 428.53h-3.5M63.70 434.38h6.5M463.75 434.38h-6.5M63.70 440.23h3.5M463.75 440.23h-3.5M63.70 446.08h3.5M463.75 446.08h-3.5M63.70 451.92h3.5M463.75 451.92h-3.5M63.70 457.77h3.5M463.75 457.77h-3.5M63.70 463.62h6.5M463.75 463.62h-6.5M63.70 469.47h3.5M463.75 469.47h-3.5M63.70 475.32h3.5M463.75 475.32h-3.5M63.70 481.17h3.5M463.75 481.17h-3.5M63.70 487.02h3.5M463.75 487.02h-3.5M63.70 492.86h6.5M463.75 492.86h-6.5M63.70 498.71h3.5M463.75 498.71h-3.5M63.70 504.56h3.5M463.75 504.56h-3.5M63.70 510.41h3.5M463.75 510.41h-3.5M63.70 516.26h3.5M463.75 516.26h-3.5M63.70 522.11h6.5M463.75 522.11h-6.5M63.70 527.96h3.5M463.75 527.96h-3.5M63.70 533.81h3.5M463.75 533.81h-3.5M63.70 539.65h3.5M463.75 539.65h-3.5M63.70 545.50h3.5M463.75 545.50h-3.5M63.70 551.35h6.5M463.75 551.35h-6.5M63.70 557.20h3.5M463.75 557.20h-3.5" stroke-width="1.15"/></g><g font-family='"Liberation Serif", serif' font-size="14" fill="#1a1a1a"><text x="37.6" y="27.5" textLength="20.2" lengthAdjust="spacingAndGlyphs">0.4</text><text x="37.6" y="71.5" textLength="20.2" lengthAdjust="spacingAndGlyphs">0.6</text><text x="37.6" y="115.5" textLength="20.2" lengthAdjust="spacingAndGlyphs">0.8</text><text x="37.6" y="159.5" textLength="20.2" lengthAdjust="spacingAndGlyphs">1.0</text><text x="37.6" y="203.5" textLength="20.2" lengthAdjust="spacingAndGlyphs">1.2</text><text x="37.6" y="247.5" textLength="20.2" lengthAdjust="spacingAndGlyphs">1.4</text><text x="37.6" y="291.5" textLength="20.2" lengthAdjust="spacingAndGlyphs">1.6</text><text x="37.6" y="335.5" textLength="20.2" lengthAdjust="spacingAndGlyphs">1.8</text><text x="20.4" y="352.2" textLength="37.2" lengthAdjust="spacingAndGlyphs">−0.10</text><text x="20.4" y="381.5" textLength="37.2" lengthAdjust="spacingAndGlyphs">−0.05</text><text x="30.0" y="410.7" textLength="27.6" lengthAdjust="spacingAndGlyphs">0.00</text><text x="30.0" y="440.0" textLength="27.6" lengthAdjust="spacingAndGlyphs">0.05</text><text x="30.0" y="469.2" textLength="27.6" lengthAdjust="spacingAndGlyphs">0.10</text><text x="30.0" y="498.5" textLength="27.6" lengthAdjust="spacingAndGlyphs">0.15</text><text x="30.0" y="527.7" textLength="27.6" lengthAdjust="spacingAndGlyphs">0.20</text><text x="30.0" y="557.0" textLength="27.6" lengthAdjust="spacingAndGlyphs">0.25</text><text x="48.9" y="575.2" textLength="30.8" lengthAdjust="spacingAndGlyphs">−0.2</text><text x="110.5" y="575.2" textLength="20.8" lengthAdjust="spacingAndGlyphs">0.0</text><text x="167.6" y="575.2" textLength="20.8" lengthAdjust="spacingAndGlyphs">0.2</text><text x="224.8" y="575.2" textLength="20.8" lengthAdjust="spacingAndGlyphs">0.4</text><text x="281.9" y="575.2" textLength="20.8" lengthAdjust="spacingAndGlyphs">0.6</text><text x="339.1" y="575.2" textLength="20.8" lengthAdjust="spacingAndGlyphs">0.8</text><text x="396.7" y="575.2" textLength="20.8" lengthAdjust="spacingAndGlyphs">1.0</text><text x="453.8" y="575.2" textLength="20.8" lengthAdjust="spacingAndGlyphs">1.2</text><text x="243.6" y="589.8" textLength="40.6" lengthAdjust="spacingAndGlyphs">Phase</text></g><g font-family='"Liberation Serif", serif' font-size="14" fill="#2a2a2a"><text transform="translate(31.2 275) rotate(-90)" textLength="218.6" lengthAdjust="spacing">Differential V magnitude (mag)</text><text transform="translate(10.6 485.6) rotate(-90)" textLength="73.4" lengthAdjust="spacing">O−C (mag)</text></g><g font-family='"Liberation Serif", serif' font-size="13.6" fill="#333"><text x="318.4" y="29.2" textLength="34.0" lengthAdjust="spacingAndGlyphs">URSA</text><text x="322.4" y="103.9" textLength="25.6" lengthAdjust="spacingAndGlyphs">NFO</text><text x="318.6" y="427.6" textLength="34.0" lengthAdjust="spacingAndGlyphs">URSA</text><text x="322.4" y="503.9" textLength="25.4" lengthAdjust="spacingAndGlyphs">NFO</text></g></svg></body></html>
